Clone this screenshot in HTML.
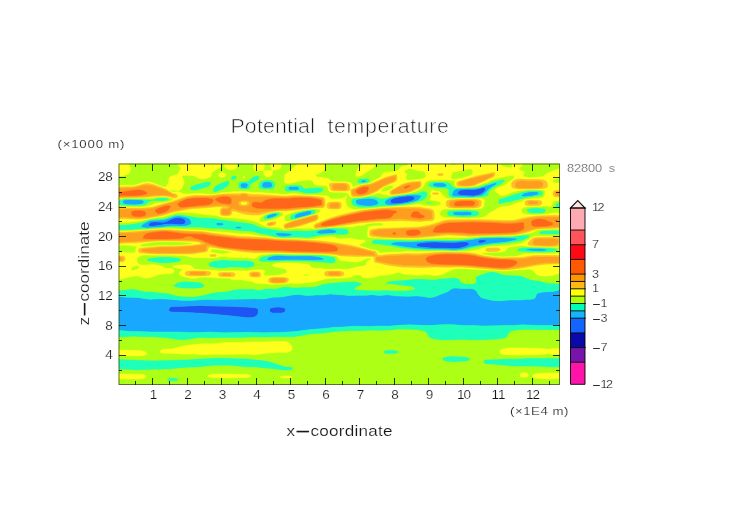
<!DOCTYPE html>
<html lang="en"><head><meta charset="utf-8"><title>Potential temperature</title>
<style>html,body{margin:0;padding:0;background:#fff;}body{width:752px;height:532px;overflow:hidden;position:relative;}svg{position:absolute;left:0;top:0;display:block;}text{font-family:"Liberation Sans",sans-serif;font-weight:400;stroke:#fff;stroke-width:0.18px;}.t1{stroke-width:0.65px;}.t2{stroke-width:0.5px;}</style></head><body>
<svg width="752" height="532" viewBox="0 0 752 532">
<rect width="752" height="532" fill="#fff"/>
<defs><clipPath id="pc"><rect x="118.7" y="163.5" width="440.8" height="221.0"/></clipPath></defs>
<g clip-path="url(#pc)" shape-rendering="geometricPrecision">
<rect x="118.0" y="163.0" width="442.5" height="222.5" fill="#aeff16"/>
<path fill="#1e54f4" stroke="#1e54f4" stroke-width="0.5" fill-rule="evenodd" d="M481.2 188.1L483.4 187.6L484.4 187.7L485.4 188L485.5 189.1L485.3 190.1L484.7 191.1L482.5 193.1L481 194.1L479.4 194.8L476.4 195.6L473.4 195.9L463.4 195.5L459.8 195.1L457.6 194.1L457.6 193.1L458.8 191.1L460.4 190.2L461.4 190L464.4 189.6L472.4 189.5L475.4 189.3L479.4 188.7L481.2 188.1ZM407.3 196.1L411.8 196.1L413.3 196.4L414.3 196.9L414.6 197.1L414.7 198.1L414.4 199.1L413.4 200.1L411.2 201.1L407.8 202.1L402.8 203.1L399.3 203.5L394.3 203.8L392.3 203.6L391.3 203.2L391 203.1L390.5 202.1L390.4 201.1L390.8 200.1L392 199.1L394.4 198.1L396.3 197.6L399.3 197L407.3 196.1ZM174.3 218.1L177.1 217.6L179.1 217.6L182 218.1L184.2 219.1L185.1 220.1L185.7 222.1L185.4 223.1L184.1 224.1L182.1 224.6L180.1 224.7L172.1 224.1L168.1 224.1L164.1 224.4L161.5 225.1L159 225.5L153 226.3L151 226.4L149 226.1L148.5 225.1L148.9 224.1L149.5 223.1L151 222.2L153 221.9L155 221.8L163.1 222.3L166.1 221.7L171.4 219.1L174.3 218.1ZM479.2 240.2L482.4 239.7L486.2 240.2L486.5 241.2L485.4 241.8L485.1 242.2L481.4 243L479.4 243L478.2 242.2L478 241.2L479.2 240.2ZM426 242.2L434.4 241.9L452.4 242.4L464.4 241.8L468 242.2L469.2 243.2L469.1 244.2L468.1 245.2L466.2 246.2L463.5 247.2L459.4 248.2L456.4 248.5L453.4 248.6L444.4 248.3L433.4 248.2L420.3 247.1L416.6 246.2L416.3 245.2L416.9 244.2L418.7 243.2L426 242.2ZM183.7 306.3L200.1 305.5L212.1 306L228.1 306.3L241.1 306.8L254.2 307.4L257 308.3L258 309.3L258.3 310.3L258.1 312.3L257.7 314.3L257.1 315.3L255.2 316.7L252.2 317.5L248.1 317.8L244.1 317.4L232.1 316L210.1 313.9L192.1 312.7L171.1 312L169.4 311.3L168.8 310.3L169.2 308.3L170.1 307.3L171.1 306.8L173.1 306.5L183.7 306.3ZM274.1 307.3L278.2 307.1L281.2 307.2L283.2 307.6L284.8 308.3L285.4 309.3L285.4 311.3L284.3 312.3L282.2 313L279.2 313.2L275.2 313.2L272.2 312.9L270.6 312.3L269.5 311.3L269.5 310.3L269.7 309.3L270.2 308.6L271.2 307.9L274.1 307.3Z"/>
<path fill="#18a8ff" stroke="#18a8ff" stroke-width="0.5" fill-rule="evenodd" d="M361 181L362.3 180.2L364.3 180.1L366.3 180.7L366.7 181L366.3 181.6L365.8 182L362.3 182.4L361.1 182L361 181ZM264.2 182L266.2 181.8L268.2 181.8L270.2 182L271.2 182.5L271.8 183L272.2 184L272.4 185L272.2 186.4L271.7 187.1L271.2 187.4L269.2 187.8L265.2 187.9L263.2 187.5L262.4 187.1L261.9 186.1L262.2 184L262.7 183L264.2 182ZM242.5 183L246.1 183L247.1 183.4L247.9 184L248 185L247.6 187.1L247.1 187.5L246.1 188.1L244.1 188.2L242.1 188.1L241.1 187.6L240.6 187.1L240.3 185L240.6 184L241.1 183.6L242.5 183ZM434.7 183L440.4 182.8L443.3 183L444.4 183.4L445.7 184L446.4 185L446.8 186.1L445.4 186.8L444.5 187.1L441.4 187.2L437.8 187.1L435.4 186.7L433.4 186.1L432.8 185L432.9 184L434.7 183ZM494.1 183L495.4 182.9L496.6 183L496.5 184L495.4 185L490.4 188L489.4 188.8L484.3 194.1L482.9 195.1L481.4 195.7L477.4 196.6L472.4 197L455.4 196.7L454.4 196.6L452.8 196.1L452 195.1L452 194.1L453.4 190.7L454.4 189.8L456.1 189.1L460.4 188.5L475.4 188.2L478.4 187.9L494.1 183ZM481.4 188L479.4 188.7L474.4 189.4L465.4 189.5L460.9 190.1L458.8 191.1L457.6 193.1L457.6 194.1L459.8 195.1L462.4 195.4L473.4 195.9L476.4 195.6L479.4 194.8L481 194.1L482.5 193.1L484.7 191.1L485.3 190.1L485.5 189.1L485.4 188L484.4 187.7L483.4 187.6L481.4 188ZM288.9 187.1L290.2 186.7L292.2 186.5L295.2 186.4L297.2 186.6L298.4 187.1L298.9 188.1L299.2 189.1L298.2 189.9L296.2 190.2L290.2 190.1L289.2 189.7L288.2 189.1L288.2 188.1L288.9 187.1ZM528.2 192.1L532.5 191.7L535.5 191.8L537.7 192.1L538.5 192.7L538.8 193.1L538.5 194.1L536.7 195.1L532.5 195.9L523.5 196.7L522.5 196.6L521.6 196.1L521.8 195.1L522.7 194.1L524.6 193.1L528.2 192.1ZM406.5 195.1L414.3 194.6L416.3 194.7L419.3 195.1L420.3 195.3L421.3 195.8L421.5 196.1L420.4 198.1L419.6 199.1L418.3 200.1L416.3 201.1L413.2 202.1L406.3 203.6L399.3 204.6L392.3 205.1L388.8 205.1L387.3 204.8L385.2 204.1L384.8 203.1L384.9 202.1L385.3 201.1L386.2 200.1L387.7 199.1L390 198.1L393.1 197.1L398.5 196.1L406.5 195.1ZM407.3 196.1L399.3 197L396.3 197.6L394.4 198.1L392 199.1L390.8 200.1L390.4 201.1L390.5 202.1L391 203.1L393.3 203.7L395.3 203.8L398.3 203.6L402.8 203.1L407.8 202.1L411.2 201.1L413.4 200.1L414.4 199.1L414.7 198.1L414.6 197.1L414.3 196.9L413.3 196.4L411.8 196.1L407.3 196.1ZM359.2 199.1L368.3 198.2L371.3 198.4L374.5 199.1L376.4 200.1L377.7 201.1L378.4 202.1L378.5 203.1L378 204.1L376.2 205.1L375.3 205.4L371.7 206.1L368.3 206.2L362.3 205.7L358.7 205.1L356.8 204.1L356.3 203.5L355.7 202.1L355.6 201.1L355.9 200.1L357.3 199.5L359.2 199.1ZM123.9 200.1L127 199.6L130 199.6L138 199.7L142.1 200.1L144 201.1L143.9 202.1L143.4 203.1L143 203.4L141.8 204.1L141 204.3L137 204.7L129 204.7L125 204.3L124 204L122.9 203.1L122.7 201.1L123.9 200.1ZM536.5 210.1L537.5 210.1L537.7 210.1L537.5 210.2L536.5 210.1ZM307.1 211.1L309.2 210.9L311.3 211.1L311.7 212.1L311.5 213.1L310.6 214.1L308.3 215.1L301 217.1L299.2 217.4L296.3 218.1L295.2 218L294.5 217.1L294.7 216.1L295.2 215.1L296.6 214.1L299.1 213.1L307.1 211.1ZM453.9 212.1L457.4 211.7L464.4 211.6L467.4 211.6L470.4 212L470.8 212.1L471.8 213.1L471.9 214.1L470.9 215.1L467.4 215.6L463.4 215.7L459.4 215.6L454.8 215.1L453 214.1L452.9 213.1L453.9 212.1ZM271.2 214.1L275.2 213.5L276.2 213.6L277 214.1L276.9 215.1L275.7 216.1L273.3 217.1L271.2 217.7L269.2 218.3L267.2 218.2L267 218.1L266.7 217.1L267.1 216.1L268.4 215.1L271.2 214.1ZM176.1 216.1L179.1 216L182.1 216.3L185.8 217.1L188.4 218.1L189.8 219.1L190.5 220.1L191.5 223.1L190.9 224.1L189.2 225.1L188.1 225.5L184.1 226.2L181.1 226.3L175.1 225.9L172.1 225.9L158 227.4L147 228.1L144 227.8L141.2 227.1L141.1 226.1L143.3 224.1L144.8 223.1L148.8 221.1L151 220.5L154 220.2L161 219.9L164.1 219.6L168.1 218.5L173.1 216.8L176.1 216.1ZM175.1 217.9L171.4 219.1L166.1 221.7L163.1 222.3L155 221.8L153 221.9L151 222.2L149.5 223.1L148.9 224.1L148.5 225.1L149 226.1L152 226.3L154.8 226.1L158 225.6L161.5 225.1L164.1 224.4L168.1 224.1L172.1 224.1L180.1 224.7L182.1 224.6L184.1 224.1L185.4 223.1L185.7 222.1L185.1 220.1L184.2 219.1L182 218.1L180.1 217.7L178.1 217.6L175.1 217.9ZM209 222.1L210.1 221.8L212.3 222.1L211.1 222.4L209 222.1ZM216.3 223.1L217.1 222.8L218.1 222.6L222.1 222.9L222.8 223.1L223.6 224.1L223.1 225.1L222.1 225.6L221.1 225.7L218.1 225.7L217.1 225.4L216.5 225.1L216.1 224.1L216.3 223.1ZM235.4 227.1L236.1 226.5L237.1 226.4L240.1 226.6L241.1 227.1L241.3 228.1L240.1 228.7L237.1 228.7L235.7 228.1L235.4 227.1ZM327.9 229.1L331.2 229.2L334.9 230.1L336.3 231.2L337 232.2L333.9 233.2L326.2 233.7L321.2 233.9L319.2 233.8L317.1 233.2L316.5 232.2L317.9 231.2L320.9 230.1L327.9 229.1ZM276 233.2L277.2 232.9L279.2 232.8L289.5 233.2L292.1 234.2L291.8 235.2L291.2 235.3L288.7 236.2L286.2 236.4L282.2 236.5L279.2 236.2L276.6 235.2L275.9 234.2L276 233.2ZM479.5 238.2L483.4 237.9L499.4 237.5L517.4 238.2L517.8 239.2L514.7 240.2L510.8 241.2L505.2 242.2L490.4 243.7L482.4 244.9L472.4 246.5L463.4 248.9L458.4 249.7L453.4 249.9L444.4 249.5L429.4 249.2L414.3 248.3L406.1 247.2L393.8 245.2L390.9 244.2L390.9 243.2L393.8 242.2L398.3 241.8L411.3 241.8L430.4 240.8L455.4 241.1L470.4 239.8L479.5 238.2ZM426.3 242.2L418.7 243.2L416.9 244.2L416.3 245.2L416.6 246.2L420.3 247.1L433.4 248.2L444.4 248.3L453.4 248.6L456.4 248.5L459.4 248.2L463.5 247.2L466.2 246.2L468.1 245.2L469.1 244.2L469.2 243.2L468 242.2L464.4 241.8L452.4 242.4L434.4 241.9L426.3 242.2ZM479.4 240.1L478 241.2L478.2 242.2L479.4 243L481.4 243L485.1 242.2L486.5 241.2L486.2 240.2L482.4 239.7L479.4 240.1ZM526.1 249.2L528.5 248.7L530.5 248.6L540.5 248.6L546.1 249.2L547.5 250.2L544.5 250.9L541.5 251.2L531.5 250.9L528.5 250.6L526.4 250.2L526.1 249.2ZM271.5 256.2L275.2 255.6L278.2 255.4L292.2 256L311.2 255.9L316.1 256.2L321 257.2L323.1 258.2L324.5 259.2L323.2 259.8L319.2 260.3L312.2 260.4L291.2 260L276.2 260.5L270.2 260.4L268.2 260.2L266.6 259.2L267.6 258.2L268.8 257.2L271.5 256.2ZM453.1 288.3L456.4 288.1L463.4 288.7L469.4 288.4L472.4 288.8L473.9 289.3L475.6 290.3L476.5 291.3L479.4 295.8L480.4 296.9L481.4 297.5L484.4 298.6L490.4 299.9L494.4 300.6L498.4 300.8L501.4 300.8L509.4 300L519.5 300L525.5 299.4L531.6 299.3L533.5 298.8L534.5 298.2L535.4 297.3L536.5 294.3L537.5 293.4L538.5 292.9L540.5 292.4L543.5 292L553.5 291.4L556.5 290.7L559.5 289.8L559.5 325.2L553.5 325.5L539.5 325.5L522.5 324.8L512.4 325.4L505.4 325.4L495.4 325.8L482.4 325.9L473.4 325.6L464.4 325.6L450.4 324.6L440.4 324.8L429.4 325.5L408.3 324.8L398.3 325.3L388.3 326.2L381.3 326L370.3 326.4L354.3 326.2L342.3 327.1L334.2 327.2L325.2 328.4L316.2 329.1L306.2 330.1L296.2 331.5L284.2 332.3L263.2 332.8L247.1 332.3L228.1 332.7L222.1 332.7L210.1 332.1L200.1 332.5L194.1 332.6L188.1 332.5L179.1 332L150 331.9L139 331.4L131 331.4L119 330.6L119 296.4L127 297.2L137 297.4L150 299.3L158 298.8L161 298.8L168.1 299.1L178.1 300.1L186.1 300.5L194.1 300.3L205.1 299.4L220.1 299.8L229.1 299.2L245.1 299.1L253.2 298.7L263.2 299L266.2 298.6L272.2 297.3L281.2 297L292.2 295L296.2 294.5L299.2 294.5L306.2 295.4L309.2 295.6L316.2 294.9L323.2 295L330.2 294L337.2 294.6L342.3 294.8L348.3 295.5L351.3 295.6L359.3 295.2L366.3 295.2L372.3 294.7L378.3 295.5L380.3 295.6L387.3 294.8L389.3 295L394.3 295.8L398.3 296L408.3 296.3L415.3 296L418.3 296.1L423.3 296.6L428.4 297.4L430.4 297.5L432.4 297.3L434.4 296.9L440.7 294.3L446.4 292.3L448.2 291.3L451.4 288.9L453.1 288.3ZM184.1 306.3L173.1 306.5L171.1 306.8L170 307.3L169.2 308.3L168.8 310.3L169.4 311.3L171.1 312L192.1 312.7L210.1 313.9L232.1 316L243.7 317.3L247.1 317.8L251.2 317.7L253.2 317.3L255.2 316.7L257.1 315.3L257.7 314.3L258.1 312.3L258.3 310.3L258 309.3L257 308.3L254.2 307.4L241.1 306.8L228.1 306.3L212.1 306L200.1 305.5L184.1 306.3ZM274.2 307.3L272.2 307.6L270.4 308.3L269.7 309.3L269.5 310.3L269.5 311.3L270.2 312L271.2 312.6L272.2 312.9L274.2 313.1L281.2 313.1L283.2 312.8L284.2 312.4L285.4 311.3L285.4 309.3L284.8 308.3L283.2 307.6L281.2 307.2L278.2 307.1L274.2 307.3Z"/>
<path fill="#1effba" stroke="#1effba" stroke-width="0.5" fill-rule="evenodd" d="M232.1 176L233.1 175.7L234.1 175.7L235.1 175.7L236.3 176L236.8 177L236.7 178L236.4 179L236.1 179.2L233.1 179.9L232.1 180L231.1 179.8L230.6 179L231.3 177L232.1 176ZM255.2 176L257.2 175.4L258.2 175.3L259.2 175.9L259.4 177L259.4 178L259 179L258.2 180L251.3 184L250.7 185L249.9 188.1L248.7 189.1L247.1 189.5L243.1 189.6L241.1 189.5L240.1 189.2L238.6 188.1L238.3 187.1L238.2 185L238.2 184L238.6 183L239.7 182L241.1 181.4L243.1 181.2L248.8 181L249.1 180.8L251.1 178L252.6 177L255.2 176ZM243.1 183L242.1 183.1L241.1 183.6L240.6 184L240.3 185L240.6 187.1L241.1 187.6L242.1 188.1L245.1 188.2L246.2 188.1L247.1 187.5L247.6 187.1L248 185L247.9 184L247.1 183.4L246.1 183L243.1 183ZM359.2 179L361.3 178.6L364.3 178.4L367.3 178.6L368.7 179L369.9 180L370 181L369.4 182L367.5 183L361.3 183.8L359.3 183.6L358.3 183.3L357.9 183L357.4 182L357.2 181L357.5 180L359.2 179ZM361.3 180.7L361 181L361.3 182.1L362.3 182.4L363.3 182.4L365.8 182L366.7 181L366.3 180.7L365.3 180.3L363.3 180L362.3 180.2L361.3 180.7ZM264.4 180L268.2 179.8L271.2 180.1L273.2 180.9L274.4 182L274.8 183L275.1 186.1L275 187.1L274.3 188.1L273.2 188.8L272.2 189.2L269.2 189.5L264.2 189.6L262.2 189.4L260.2 188.7L259.2 188.1L258.7 187.1L258.7 186.1L258.9 185L259.6 183L260.2 182L261.2 181.1L262.2 180.5L264.4 180ZM264.2 182L262.7 183L262.2 184L261.9 186.1L262.4 187.1L263.2 187.5L265.2 187.9L268.2 187.9L270.2 187.7L271.7 187.1L272.3 186.1L272.2 184L271.8 183L270.3 182L269.2 181.8L266.2 181.8L264.2 182ZM498.5 180L502.4 179.6L504.4 180L505 181L504.5 182L501.5 184L493.7 188.1L491.4 189.6L489.9 191.1L489.1 192.1L488.4 195.1L487.4 195.9L485.4 196.6L483.3 197.1L478.4 197.6L472.4 197.9L452.4 197.9L449.8 197.1L449 196.1L448.4 194.1L448.5 190.1L447.6 189.1L445.4 188.8L438.4 188.4L433.4 187.9L430.4 187.3L429.6 187.1L428.6 186.1L428.7 184L429.2 183L431.4 182.1L433.4 181.7L440.4 181.5L446.4 181.9L448.4 182.5L449.7 183L452.4 186.1L454.1 187.1L455.4 187.5L457.4 187.8L460.4 187.6L466.4 187.7L477.4 187L479.4 186.6L482.4 185.4L493.4 181.5L498.5 180ZM435.4 183L434.4 183.1L432.9 184L432.8 185L433.3 186.1L435.4 186.7L437.8 187.1L441.4 187.2L444.4 187.1L445.4 186.8L446.8 186.1L446.4 184.9L445.7 184L445.4 183.8L443.4 183L442.4 182.9L438.4 182.8L435.4 183ZM494.4 183L478.4 187.9L475.4 188.2L460.4 188.5L456.1 189.1L454.4 189.8L453.4 190.7L452 194.1L452 195.1L452.8 196.1L454.4 196.6L472.4 197L477.4 196.6L481.4 195.7L482.9 195.1L484.3 194.1L489.4 188.8L490.4 188L495.4 185L496.5 184L496.6 183L495.4 182.9L494.4 183ZM225.6 181L228.1 180.6L229.2 181L229.3 182L229.1 184L228.7 185L228 186.1L226.1 187.6L223.7 189.1L218.9 191.1L216.1 192L215.1 192.1L213.7 192.1L212.9 191.1L213 189.1L213.4 188.1L214.1 187.1L215.2 186.1L218.1 184.3L223.1 182L225.6 181ZM205.1 182L209.1 181.5L210.1 181.6L211.1 182L211.1 183L210 185L209 186.1L207.4 187.1L206.1 187.6L201.5 189.1L197.1 190.2L195.1 190.6L193.1 190.6L191.1 190.1L190 189.1L189.8 188.1L190.5 187.1L192.1 186L196.1 184.3L199.1 183.4L205.1 182ZM290.7 185L296.2 184.8L299.4 185L301.2 185.6L301.9 186.1L303.2 187.5L304.2 188.1L305.2 188.3L316.2 187.3L319.2 187.3L321.2 187.6L322.7 188.1L323.4 189.1L323.3 190.1L322.7 191.1L321.4 192.1L318.2 193.1L315.2 193.4L307.2 193.7L304.2 193.3L300.2 192L295.2 191.6L289.2 191.5L286.2 191.1L284.4 190.1L284.2 189.1L284.7 187.1L286.2 185.9L288.2 185.4L290.7 185ZM289.2 186.9L288.9 187.1L288.2 188.1L288.2 189.1L289.2 189.7L290.2 190.1L291.2 190.1L297.9 190.1L299.2 189.1L298.9 188.1L298.2 186.9L297.2 186.6L295.2 186.4L291.2 186.5L289.2 186.9ZM423.3 191.1L424.3 191.1L426.3 191.8L427.3 193.1L427.5 194.1L427.4 195.1L427.1 196.1L426.3 197.4L425.8 198.1L422.3 200.8L413.3 203.4L407.3 204.5L399.3 205.5L391.3 206.1L380.3 206.4L374.3 207.2L369.3 207.6L364.3 207.7L360.3 207.5L357.3 207L355.3 206.5L354.3 206L352.9 205.1L352 204.1L351.3 202.1L351.2 201.1L351.3 200.1L352.3 199.1L354.3 198.3L361.3 197.8L369.3 196.6L372.3 196.4L375.3 196.8L380.3 198.2L381.3 198.4L383.3 198.4L394.3 195.8L418.3 192.8L420.3 192.1L422.3 191.2L423.3 191.1ZM359.3 199.1L357.3 199.5L355.9 200.1L355.6 201.1L355.7 202.1L356.3 203.5L356.8 204.1L358.3 204.9L361.3 205.6L367.3 206.2L371.3 206.1L374.3 205.6L376.2 205.1L378 204.1L378.5 203.1L378.4 202.1L377.7 201.1L376.4 200.1L374.5 199.1L371.3 198.4L368.3 198.2L359.3 199.1ZM407.3 195L398.5 196.1L393.1 197.1L390 198.1L387.7 199.1L386.2 200.1L385.3 201.1L384.9 202.1L384.8 203.1L385.2 204.1L386.3 204.5L388.3 205L390.3 205.2L393.7 205.1L398.3 204.7L406.3 203.6L413.2 202.1L416.3 201.1L418.3 200.1L419.6 199.1L420.4 198.1L421.5 196.1L421.3 195.8L420.3 195.3L417.3 194.8L415.3 194.6L407.3 195ZM525.7 191.1L529.5 190.6L533.5 190.4L536.5 190.5L541.5 191L542.5 191.5L542.9 192.1L542.9 194.1L542.5 195.2L541.5 195.8L526.5 198.1L513.4 201.3L500.4 204L499.4 204L498.4 203.4L498.1 202.1L498.1 201.1L498.5 200.1L499.4 199.2L500.4 198.7L504.4 197.6L511.5 195.1L521.5 192.1L525.7 191.1ZM528.5 192L524.6 193.1L522.7 194.1L521.8 195.1L521.6 196.1L522.5 196.6L523.5 196.7L531.5 196L536.7 195.1L538.5 194.1L538.8 193.1L537.7 192.1L535.5 191.8L532.5 191.7L528.5 192ZM158.5 198.1L163.1 197.8L166.9 198.1L169.1 199.1L168.5 200.1L167.1 200.5L164.1 200.9L152 201L150 201.5L149 202L147.2 204.1L145.3 205.1L144 205.4L141 205.8L138 206L129 205.9L122 205.5L120.3 205.1L119 204.2L119 200.5L119.3 200.1L121 199.5L124 199L130 198.7L141 198.9L150 199.6L152 199.4L158.5 198.1ZM124 200.1L122.7 201.1L122.9 203.1L124 204L125 204.3L129 204.7L136 204.8L139 204.6L142 204L143.4 203.1L143.9 202.1L144 201.1L142.1 200.1L138 199.7L130 199.6L127 199.6L124 200.1ZM425.7 202.1L427.9 202.1L431.4 202.8L431.8 203.1L431.4 203.6L430.4 203.9L427.4 203.6L426.2 203.1L425.7 202.1ZM556.3 203.1L557.5 202.8L559.5 202.7L559.5 207.8L557.5 207.8L556.5 207.6L555.5 207.1L555.2 206.1L555.5 204.1L556.3 203.1ZM531.2 208.1L535.5 207.8L539.5 207.9L542.5 208.3L545.2 209.1L545.9 210.1L545.8 211.1L545.2 212.1L543.5 213L542.5 213.2L538.5 213.5L533.5 213.4L530.5 213.1L527.6 212.1L526.9 211.1L526.6 210.1L527.4 209.1L529.5 208.4L531.2 208.1ZM537.5 210.1L536.5 210.1L537.5 210.2L537.7 210.1L537.5 210.1ZM307.3 210.1L312.2 209.6L314.2 209.8L315.2 210.1L315.7 211.1L315.5 212.1L315 213.1L313.7 214.1L311 215.1L297.2 218.8L296.2 219.1L292.2 219.8L291.2 219.7L290.3 219.1L290 218.1L290.1 217.1L290.5 216.1L291.4 215.1L292.9 214.1L296.2 212.7L302.3 211.1L307.3 210.1ZM307.2 211.1L299.1 213.1L296.6 214.1L295.2 215.1L294.7 216.1L294.5 217.1L295.2 218L296.3 218.1L298.2 217.7L304.9 216.1L308.3 215.1L310.6 214.1L311.5 213.1L311.7 212.1L311.3 211.1L309.2 210.9L307.2 211.1ZM461.2 210.1L467.4 210L472.4 210.3L477.4 211.1L479.1 212.1L479.3 213.1L479.1 214.1L478.6 215.1L476.8 216.1L472.4 216.8L465.4 217.1L459.4 217L452.4 216.5L449.8 216.1L447.5 215.1L447 214.1L447 213.1L447.3 212.1L448.5 211.1L450.4 210.6L452.4 210.3L461.2 210.1ZM454.4 212L453.9 212.1L452.9 213.1L453 214.1L454.8 215.1L458.4 215.5L462.4 215.7L467.4 215.6L470.4 215.2L470.9 215.1L471.9 214.1L471.8 213.1L470.8 212.1L470.4 212L467.4 211.6L464.4 211.6L457.4 211.7L454.4 212ZM271.8 213.1L275.2 212.4L277.2 212.3L278.2 212.5L279.4 213.1L279.9 214.1L279.5 215.1L278.2 216.1L275.2 217.6L271.2 218.8L268.2 219.6L266.2 219.8L265.2 219.7L264.1 219.1L263.9 218.1L264.1 217.1L264.8 216.1L266.1 215.1L268.3 214.1L271.8 213.1ZM272.2 213.9L268.4 215.1L267.1 216.1L266.7 217.1L267 218.1L268.2 218.3L270.2 218.1L273.3 217.1L275.7 216.1L276.9 215.1L277 214.1L276.2 213.6L275.2 213.5L272.2 213.9ZM173.9 215.1L177.1 214.4L181.1 214.6L199.1 217.4L213.1 218.1L222.1 219.6L249.1 223.1L253.5 224.1L259.2 226.7L261.2 227.3L273.2 229.5L281.2 230.6L284.2 230.8L296.2 230.5L307.2 230.8L315.2 230L318.9 229.1L329.2 228.1L334.2 228L344.3 228.4L346.3 228.9L347.3 229.6L347.9 230.2L348.5 231.2L348.7 232.2L348.4 233.2L347.4 234.2L345.3 234.9L342.3 235.1L338.2 234.8L334.2 234.8L326.2 235.3L319.2 236L311.2 237.5L307.2 238L298.2 237.6L294.2 237.7L283.2 237.9L277.2 237.4L265.2 234.8L260.2 234L251.2 231.5L241.1 231.1L235.1 230.6L222.1 229L211.1 228.8L200.1 227.6L194.1 227.4L183.1 227.9L175.1 227.4L172.1 227.3L147.3 229.1L140 229.3L131 229.9L119 230.2L119 224.7L127 224.5L141 222.6L148 220.1L150 219.6L153 219.1L164.1 218.2L168.1 217.1L173.9 215.1ZM177.1 216L174.1 216.6L168.1 218.5L164.1 219.6L161 219.9L154 220.2L151 220.5L148.8 221.1L144.8 223.1L143.3 224.1L141.1 226.1L141.2 227.1L144 227.8L147 228.1L157 227.4L163.1 227L172.1 225.9L175.1 225.9L181.1 226.3L184.1 226.2L187.1 225.8L189.2 225.1L190.1 224.6L190.9 224.1L191.5 223.1L191.3 222.1L190.5 220.1L189.8 219.1L188.4 218.1L185.8 217.1L183.1 216.5L180.1 216.1L177.1 216ZM209.1 222.1L210.1 222.3L212.1 222.2L211.1 221.9L210.1 221.8L209.1 222.1ZM217.1 222.8L216.3 223.1L216.1 224.1L216.5 225.1L218.1 225.7L220.1 225.8L222.1 225.6L223.1 225.1L223.6 224.1L222.8 223.1L221.1 222.7L218.1 222.6L217.1 222.8ZM236.1 226.5L235.4 227.1L235.7 228.1L237.1 228.7L240.1 228.7L241.1 228.3L241.3 228.1L241.1 227.1L240.1 226.6L238.1 226.4L236.1 226.5ZM276.2 233.1L276 233.2L275.9 234.2L276.6 235.2L279.1 236.2L282.2 236.5L285.2 236.4L288.7 236.2L290.2 235.6L291.8 235.2L292.1 234.2L289.5 233.2L279.2 232.8L276.2 233.1ZM328.2 229.1L320.9 230.1L317.9 231.2L316.5 232.2L317.1 233.2L319.2 233.8L321.2 233.9L325.2 233.8L333.9 233.2L337 232.2L336.3 231.2L334.9 230.1L331.2 229.2L328.2 229.1ZM540.3 231.2L545.5 230.6L555.5 230.3L558.5 230.5L559.5 230.7L559.5 234L559.1 234.2L555.5 234.5L543.5 234.3L541 234.2L539.2 233.2L539.1 232.2L540.3 231.2ZM523.1 235.2L526.5 235L528.5 235.1L529.5 235.6L529.8 236.2L528.9 237.2L525.8 239.2L523.5 240.3L520.5 241.3L507.4 243.5L490.4 245.1L482.4 246.2L472.4 248.2L465.4 249.8L458.4 250.7L454.4 250.9L443.4 250.4L432.4 250.4L415.3 249.8L403.3 248.6L383.6 245.2L374.3 244.3L372.3 243.6L371.7 243.2L371.6 242.2L372.3 240.7L372.7 240.2L373.3 239.9L375.3 239.6L411.3 240.3L432.4 239.6L454.4 239.9L468.4 238.7L481.4 237.1L499.4 236.5L511.4 236.5L523.1 235.2ZM480.4 238.1L470.4 239.8L455.4 241.1L430.4 240.8L411.3 241.8L398.3 241.8L393.8 242.2L390.9 243.2L390.9 244.2L393.8 245.2L406.1 247.2L414.3 248.3L428.9 249.2L444.4 249.5L452.4 249.9L457.4 249.8L462.4 249.1L472.4 246.5L482.4 244.9L490.4 243.7L505.2 242.2L510.8 241.2L514.7 240.2L517.8 239.2L517.4 238.2L499.4 237.5L480.4 238.1ZM518.9 248.2L522.5 247.5L525.5 247.3L541.5 247.6L554.5 248.2L557.3 249.2L557.6 250.2L556.7 251.2L555.5 251.5L551.5 252L543.5 252.4L528.5 252.2L522.5 251.9L518 251.2L517.2 250.2L517.6 249.2L518.9 248.2ZM526.5 249.1L526.1 249.2L526.4 250.2L530.5 250.8L541.5 251.2L544.5 250.9L547.5 250.2L546.1 249.2L540.5 248.6L530.5 248.6L526.5 249.1ZM269.3 255.2L274.2 254.5L278.2 254.3L292.2 254.8L313.2 254.9L322.2 255.2L325.2 255.5L332.2 256.6L334.5 257.2L335.1 258.2L335.9 261.2L335.6 262.2L335.2 262.5L333.2 263.2L331.2 263.4L326.2 263L310.2 261.7L297.2 261.4L286.2 261.4L271.2 261.9L261.2 261.8L259.2 261.2L258.8 260.2L259.2 259.2L260.6 257.2L262.2 256.4L265.2 256L269.3 255.2ZM272.2 256.1L268.8 257.2L267.6 258.2L266.6 259.2L268.2 260.2L269.2 260.3L275.2 260.5L287.2 260L293.2 260L312.2 260.4L318.2 260.3L322.2 260L323.2 259.8L324.5 259.2L323.1 258.2L321 257.2L316.1 256.2L311.2 255.9L292.2 256L278.2 255.4L275.2 255.6L272.2 256.1ZM155.9 257.2L162 256.8L169.1 256.9L175.1 257.3L180.1 258.2L181 259.2L180.9 260.2L180.4 261.2L177.4 262.2L171.1 262.9L165.1 263.3L161 263.3L158 262.9L148 261.2L147 260.2L147 259.2L148.4 258.2L155.9 257.2ZM217.1 260.2L222.1 259.8L238.1 260.4L246.1 260.2L249.1 260.5L251.2 261L252 261.2L253.7 262.2L254.4 263.2L254.8 265.2L254.1 266.2L251.2 267.4L248.1 267.9L246.1 268L238.1 267.5L233.1 267.4L230.1 267.6L224.1 268.3L221.1 268.4L217.1 268.2L211.5 267.2L209 266.2L208.4 265.2L209.2 263.2L210.1 262.2L212.5 261.2L217.1 260.2ZM487.4 272.2L490.4 271.7L493.4 271.8L496.4 272.2L501.4 274.1L504.4 274.7L509.4 275.1L516.5 275.3L519.5 275.5L522.7 276.3L528.5 278.7L530.5 279.4L532.5 279.9L539.5 280.7L546.5 282.7L549.5 283.1L554.5 283.2L559.5 283.5L559.5 289.8L556.5 290.7L553.5 291.4L543.5 292L540.5 292.4L538.5 292.9L537.5 293.4L536.5 294.3L535.4 297.3L534.5 298.2L533.5 298.8L531.5 299.3L525.5 299.4L519.5 300L509.4 300L500.4 300.8L496.4 300.7L492.5 300.3L484.4 298.6L482.4 298L481 297.3L479.4 295.8L476.4 291.1L475.6 290.3L473.4 289.1L471.4 288.6L469.4 288.4L462.4 288.6L455.4 288.1L453.4 288.2L451.4 288.9L448.2 291.3L446.4 292.3L440.7 294.3L435.4 296.5L432.4 297.3L430.4 297.5L428.4 297.4L423.3 296.6L418.3 296.1L415.3 296L408.3 296.3L398.3 296L394.3 295.8L389.3 295L387.3 294.8L380.3 295.6L378.3 295.5L372.3 294.7L366.3 295.2L359.3 295.2L351.3 295.6L348.3 295.5L342.3 294.8L337.2 294.6L330.2 294L323.2 295L316.2 294.9L309.2 295.6L306.2 295.4L299.2 294.5L296.2 294.5L292.2 295L281.2 297L272.2 297.3L266.2 298.6L262.2 299L253.2 298.7L245.1 299.1L229.1 299.2L220.1 299.8L205.1 299.4L194.1 300.3L187.1 300.5L180.1 300.2L169.1 299.2L161 298.8L158 298.8L151 299.3L148 299.1L137 297.4L127 297.2L119 296.4L119 290L123 290L130 289L133 288.9L136 289.3L141 290.7L144 291.3L152 291.4L158 292.4L166.1 292.9L169.1 293.5L175.5 295.3L181.1 296.1L186.1 296.5L192.1 296.6L196.1 296.3L202.3 295.3L206.6 294.3L211.1 292.9L213.1 292.5L217.1 292L226.1 291.4L232.1 290L236.1 289.2L240.1 289L247.1 289.1L252.2 288.9L254.2 289L257.2 289.8L259.2 289.9L261.2 289.6L265.2 288.6L267.2 288.4L273.2 288.7L275.2 288.7L277.2 288.3L282.2 287L285.2 286.7L287.2 286.7L294.2 287.4L303.2 287.1L312.2 287L315.2 286.6L323.2 284.1L327.2 283.2L336.7 282.3L350.3 281.4L354.3 281.6L358.3 282.1L361.7 283.3L362.1 284.3L360.9 285.3L356.4 287.3L355.3 288L354.9 288.3L355.3 289.3L362.3 289.9L377.3 290.2L386.3 290L397.3 290.6L402.3 290.6L406.7 290.3L413.3 289.4L413.8 289.3L414.5 288.3L413.3 287.4L412.3 287.1L396.3 284.9L388.3 284L385.8 283.3L385.7 282.3L388.3 281.4L396.8 280.3L404.3 280L414.3 278.8L419.3 278.7L434.4 279.4L442.9 278.3L453.4 277.7L455.4 277.8L457.4 278.1L459.9 279.3L460.5 280.3L460.5 281.3L461.2 282.3L463.8 283.3L467.4 283.8L471.4 283.7L474.2 283.3L475.8 282.3L476 281.3L475.5 278.3L475.7 277.3L476.7 276.3L478.8 275.3L485 273.2L487.4 272.2ZM183 281.3L186.1 281.2L198.1 282L200.1 282.4L202 283.3L203.2 284.3L204 285.3L204.3 286.3L203.6 287.3L201.1 288.1L196.1 288.7L187.1 288.8L182.1 288.5L175.6 287.3L173.3 286.3L173.2 285.3L176.3 283.3L179.1 282.1L183 281.3ZM397.2 325.4L410.3 324.8L421.3 325.3L430.4 325.5L440.4 324.8L449.4 324.6L453.4 324.7L464.4 325.6L473.4 325.6L482.4 325.9L495.4 325.8L505.4 325.4L512.4 325.4L522.5 324.8L539.5 325.5L553.5 325.5L559.5 325.2L559.5 330.2L539.5 330.3L524.5 329.9L517.6 330.4L511.4 331.4L509.8 332.4L507.4 336.4L506.4 337.5L504.4 338.4L498.6 339.4L485.4 340.2L475.4 340.4L462.4 340L445.4 340.4L440.4 340.3L434.4 339.4L430.4 338.3L428.7 337.4L428 335.4L425.9 332.4L424.6 331.4L423.3 331L420.3 330.5L412.3 329.8L401.3 329.6L397.3 329.7L388.3 330.6L380.3 330.9L369.3 330.7L359.3 331.2L351.3 331.1L347.3 331.2L334.2 332.2L322.2 333.7L311.2 334.3L294.2 337.2L285.2 337.3L263.2 337.5L252.2 337.3L242.1 337.9L218.1 338L211.1 338.3L201.1 338.1L195.9 338.4L186.1 339.9L180.1 340.2L176.1 339.8L167.1 338.3L153 337.2L143 337.2L133 336.8L123 337.4L119 337.4L119 330.6L131 331.4L139 331.4L149 331.9L179.1 332L191.1 332.6L199.1 332.6L210.1 332.1L224.1 332.8L247.1 332.3L264.2 332.7L283.2 332.3L295.2 331.6L306.2 330.1L316.2 329.1L325.2 328.4L334.2 327.2L342.3 327.1L354.3 326.2L370.3 326.4L381.3 326L388.3 326.2L397.2 325.4ZM384.8 350.4L387.3 350.1L392.3 350L395.3 350.1L397.2 350.4L398.5 351.4L398.3 352.4L397.3 353.4L395.3 353.8L391.3 354L387.3 354L384.3 353.5L384 353.4L383.2 352.4L383.3 351.4L384.8 350.4ZM446.8 356.4L450.4 356.1L453.4 356.1L463.4 356.5L467.4 357.1L468.6 357.4L469.4 358.1L469.7 358.4L469.9 359.4L469.4 360.4L466.3 361.4L459.4 362L454.4 362.2L449.4 362L445.7 361.4L443.1 360.4L442.5 359.4L442.4 358.4L443.1 357.4L446.8 356.4ZM203.5 358.4L216.1 357.8L224.1 357.7L245.1 358.5L250.1 358.8L264.2 360.2L267.2 360.7L272.2 362.2L285.2 366.4L290.2 366.6L292.7 367.5L293 368.5L292.7 369.5L292.2 369.8L290 370.5L285.2 370.7L273.2 369.2L264.2 368.5L256.2 367.5L244.1 367.2L232.1 365.9L215.1 365.8L208.1 366.4L196.1 367.6L183.1 368.1L172.1 369.2L163.1 369.6L147 369.9L136 370.4L127 369.8L119 369.7L119 358.9L140 360L155 360.2L184.1 359.6L203.5 358.4ZM520.1 358.4L525.5 358.1L559.5 358L559.5 367.4L552.5 367.4L538.5 366.7L524.5 366.6L516.5 366.6L511.4 366.4L500.4 365.3L487.4 364.5L485.4 364.1L484.2 363.5L483.7 362.4L483.5 361.4L483.8 360.4L485.4 359.6L486.4 359.4L507.4 358.7L515.5 358.8L520.1 358.4ZM167.5 378.5L169.1 378L170.1 377.9L176.1 378.1L177.7 378.5L178.5 379.5L178.6 380.5L177.1 381.2L176.1 381.3L171.1 381.4L169.1 381.2L167.3 380.5L167.1 379.5L167.5 378.5Z"/>
<path fill="#aeff16" stroke="#aeff16" stroke-width="0.5" fill-rule="evenodd" d="M128.7 164L177.8 164L178.4 165L180 167L180.4 168L180.4 169L180 170L178.1 174L177.1 174.6L172.1 176L170 177L169.2 178L169.1 178.5L168.7 182L168.3 183L166.4 186.1L166.2 187.1L165.1 187.2L161.2 186.1L152 182.5L148 181.8L143 182.6L135.1 185L134 185.2L132 185.4L127 185.2L119 185.4L119 176L123 175.6L127 174.4L129 173.1L130 171.6L130.5 170L130.4 168L129 165L128.7 164ZM220.2 164L224.5 164L224.2 166L224.6 167L225.7 168L227.1 169L228.1 169.4L230.1 169.7L233.1 169.5L235.2 169L236.2 168L236.6 167L236.8 164L254.6 164L253.5 167L253.5 168L253.8 169L254.4 170L255.2 170.7L256.2 171L257.2 171.1L263.2 170.4L263.5 170L264.4 167L264.5 166L264.2 164L270.5 164L270.4 166L270.7 167L271.8 169L272.1 170L268.2 170.7L264.2 170.5L263.6 171L264.2 174L264.6 175L265.2 175.9L266.2 176.4L269.2 176.6L270.2 176.5L271.2 176.1L272.1 175L272.5 173L272.6 171L273.2 170.1L278.2 169.4L279.3 169L280.2 168.2L280.7 167L281.5 164L297.5 164L292.7 168L290.2 171L287.2 172.9L285.8 174L285 175L284.6 176L284.4 178L284.6 181L284.8 182L285.3 183L286.2 183.4L288.2 183.4L292.2 182.8L298.2 181.3L301.2 180.7L308.2 180L310.9 180L312.2 180.7L312.5 181L314.3 184L316.2 185L324.2 185.4L325.2 185.6L326.5 186.1L327.6 187.1L328 188.1L328.3 190.1L328.9 191.1L330.2 191.9L333.2 192.3L341.3 192.2L348.1 193.1L348.6 195.1L349.3 195.2L349.7 196.1L350.7 197.1L351.3 197.4L352.3 197.6L354.3 197.3L360.3 197.1L364.3 196.6L372.3 194.8L377.3 193.2L378.3 193L380.3 193.2L384.3 194.7L387.3 194.9L390.3 195.7L402.3 194.2L410.3 192.8L414.3 191.7L420.3 188.8L422.7 187.1L423.6 186.1L424.2 185L424.8 183L425.5 182L426.3 181.4L428.4 180.6L430.4 180.3L444.4 179.8L453.4 180.2L454.4 180.4L454.9 181L455 184L455.7 186.1L456.4 186.6L457.4 187L460.4 186.9L463.4 187.1L467.4 187L472.4 186.5L479.4 184.9L482.4 183.7L487.5 182L493.4 179.3L496.4 178.5L505.4 176.6L509.4 176L512.4 175.3L513.4 175.3L514.2 176L514.2 177L513.9 178L513.1 179L510.4 180.7L505.4 184.8L503.4 185.8L497.7 188.1L496.1 189.1L495.1 190.1L495.1 191.1L495.9 192.1L499 194.1L500.4 195.3L501.4 195.6L502.4 195.6L504.4 195.2L514.4 191.5L518.5 190.6L522.7 190.1L528.5 189.7L536.5 189.6L542.5 189.7L544.2 190.1L545.2 191.1L545.2 192.1L544.3 196.1L543.5 197L542.5 197.7L541.5 197.9L536.5 198.6L528.5 199.1L525.5 199.6L524 200.1L520.5 201.9L513.7 204.1L509.4 206L507.4 206.3L502.4 206.6L500.1 207.1L498.4 207.7L497.4 208.2L495.1 210.1L489.6 213.1L485.4 216.4L484 217.1L481.4 217.7L474.4 218.2L462.4 218.3L448.4 217.9L444.4 217.4L442.4 216.7L441.2 216.1L440.2 215.1L439.8 214.1L440.1 212.1L440.7 211.1L441.9 210.1L443.4 209.3L445.4 208.9L447.4 208.9L456.4 209.1L466.4 208.9L476.4 209L480.4 208.7L482.2 208.1L483.4 207.1L483.8 206.1L484.2 203.1L484.8 201.1L484.7 200.1L482.8 199.1L478.4 198.6L460.4 198.6L452.4 198.9L447.4 198.5L445.8 198.1L445.4 197.8L443.4 195.7L441.4 193.9L441 193.1L440.3 192.1L439.4 191.5L434.6 191.1L433.5 190.1L432.4 189.9L431.2 190.1L431.6 191.1L431.4 191.1L430.6 192.1L430.4 193.1L430.4 194.1L431.2 196.1L431.1 197.1L430.9 198.1L430.2 199.1L430.2 200.1L435.4 200.6L440.4 202L440.9 203.1L440.4 204.2L439.3 205.1L437.4 205.8L433.4 206.2L426.3 205.8L423.3 205.2L420.3 204L419.3 203.9L408.3 205.6L392.3 206.8L381.3 207.4L371.3 208.5L356.3 209.5L353.3 209.3L351.3 208.7L349.3 207.7L347.3 206.1L346.6 205.1L345.7 202.1L345.7 200.1L346.8 196.1L346.3 195.8L343.3 198L342.3 198.4L339.2 198.8L333.2 199L331.2 198.8L330.2 198.4L328.3 196.1L327.2 195.7L323.2 195.4L314.2 195.1L305.1 195.1L302.2 194.8L296.2 193.7L294.2 193.5L291.2 193.6L285.2 194.3L282.2 194.3L275.2 193.5L267 193.1L261.2 192.5L253.2 192.3L244.1 191.6L237.1 191.4L234.1 191.6L228.1 192.3L222.1 192.7L214.9 194.1L211.1 194.3L206.5 194.1L201.1 193.4L198.1 193.2L188.1 193.9L185.1 193.9L183.1 193.5L178.1 191.6L177.1 191.7L175.5 192.1L173.1 192.2L170.9 191.1L169.8 190.1L170.1 189.8L178.1 190.7L179.1 190.5L180.1 189.8L181.1 188.9L182.4 187.1L183.6 184L184.1 182L184 181L183.7 180L182.1 177L182.1 176L183.1 175.6L185.1 175.3L192.1 175.4L194.5 176L198.1 178.1L201.1 178.9L204.1 178.9L207.8 178L210.3 177L211.2 176L211.3 174L211.6 173L212.5 172L215.6 170L219.4 168L220.9 167L221.4 166L220.2 164ZM226.1 180.9L223.1 182L218.1 184.3L215.2 186.1L214.1 187.1L213.4 188.1L213 189.1L212.9 191.1L213.7 192.1L215.6 192.1L218.9 191.1L223.7 189.1L226.1 187.6L228 186.1L228.7 185L229.1 184L229.3 182L229.2 181L228.1 180.6L226.1 180.9ZM232.1 176L231.3 177L230.6 179L231.1 179.8L232.1 180L235.1 179.5L236.4 179L236.7 178L236.8 177L236.3 176L235.1 175.7L234.1 175.7L232.1 176ZM243.1 176.7L242.9 177L243.1 178.2L244.1 178.3L244.8 178L245.1 177L244.1 176.5L243.1 176.7ZM256.2 175.7L252.6 177L251.2 178L250.3 179L249.1 180.8L248.8 181L242.1 181.3L240.1 181.8L239.1 182.4L238.6 183L238.2 184L238.3 187.1L238.6 188.1L240.1 189.2L242.1 189.6L246.1 189.6L247.1 189.5L248.7 189.1L249.9 188.1L250.7 185L251.3 184L258.2 180L259 179L259.4 178L259.2 176L258.2 175.3L256.2 175.7ZM265.2 179.9L262.2 180.5L261.2 181.1L260.2 182L259.6 183L258.9 185L258.7 186.1L258.7 187.1L259.2 188.1L260.2 188.7L261.2 189.1L264.2 189.6L268.2 189.6L270.2 189.5L272.2 189.2L273.2 188.8L274.3 188.1L275 187.1L275.1 186.1L274.8 183L274.2 181.8L273.2 180.9L272.2 180.4L269.2 179.9L265.2 179.9ZM291.2 185L287.2 185.6L285.9 186.1L284.7 187.1L284.2 189.1L284.4 190.1L286.1 191.1L289.2 191.5L295.2 191.6L300.2 192L304.2 193.3L306.2 193.6L309.2 193.7L317.2 193.2L319.2 192.8L321.2 192.2L322.7 191.1L323.3 190.1L323.4 189.1L322.7 188.1L322.2 187.9L320.2 187.4L317.2 187.2L305.2 188.3L304.1 188.1L303.2 187.5L301.9 186.1L300.2 185.2L297.2 184.8L291.2 185ZM423.3 191.1L422.3 191.2L420.3 192.1L418.3 192.8L394.3 195.8L383.3 198.4L381.3 198.4L380.3 198.2L375.3 196.8L372.3 196.4L369.3 196.6L361.3 197.8L354.3 198.3L352.3 199.1L351.3 200.1L351.2 201.1L351.6 203.1L352 204.1L352.9 205.1L354.4 206.1L357.3 207L360.3 207.5L364.3 207.7L369.3 207.6L374.3 207.2L380.3 206.4L391.3 206.1L399.3 205.5L406.3 204.7L412.3 203.6L416.3 202.6L422.3 200.8L425.8 198.1L426.6 197.1L427.1 196.1L427.5 194.1L427.3 193.1L426.3 191.8L425.3 191.4L423.3 191.1ZM499.4 179.9L496.4 180.6L493.4 181.5L482.4 185.4L479.4 186.6L477.4 187L466.4 187.7L460.4 187.6L457.4 187.8L455.4 187.5L454.1 187.1L452.4 186.1L449.7 183L448.4 182.5L446.4 181.9L440.4 181.5L433.4 181.7L431.4 182.1L429.2 183L428.7 184L428.6 186.1L429.6 187.1L430.4 187.3L433.4 187.9L437.4 188.3L445.4 188.8L447.6 189.1L448.5 190.1L448.4 194.1L449 196.1L449.8 197.1L452.4 197.9L472.4 197.9L478.4 197.6L483.3 197.1L485.4 196.6L487.4 195.9L488.4 195.1L489.1 192.1L489.9 191.1L491.4 189.6L493.7 188.1L501.5 184L504.5 182L505 181L504.4 180L502.4 179.6L499.4 179.9ZM526.5 190.9L522.5 191.8L511.5 195.1L504.4 197.6L500.4 198.7L499.4 199.2L498.5 200.1L498.1 201.1L498.1 202.1L498.4 203.4L499.4 204L500.4 204L512.4 201.5L526.5 198.1L541.5 195.8L542.5 195.2L542.9 194.1L542.9 192.1L542.5 191.5L541.5 191L536.5 190.5L533.5 190.4L529.5 190.6L526.5 190.9ZM461.4 210.1L452.4 210.3L449.4 210.8L448.5 211.1L447.3 212.1L447 213.1L447 214.1L447.5 215.1L449.4 216L450.4 216.2L457.4 216.9L464.4 217.1L471.4 216.9L474.4 216.6L476.8 216.1L478.6 215.1L479.1 214.1L479.3 213.1L479.1 212.1L477.4 211.1L473.4 210.4L468.4 210L461.4 210.1ZM205.1 182L199.1 183.4L196.1 184.3L192.1 186L190.5 187.1L189.8 188.1L190 189.1L191 190.1L193.1 190.6L196.1 190.4L204.9 188.1L207.4 187.1L209 186.1L210 185L210.6 184L211.1 183L211.1 182L210.1 181.6L209.1 181.5L205.1 182ZM220.1 172.9L219 174L218.8 175L218.9 176L219.1 176.3L219.9 177L221.1 177.3L223.9 177L225.1 176.5L225.6 176L225.8 175L225.6 174L225.1 173.5L224.1 173L223.1 172.8L221.1 172.7L220.1 172.9ZM426.3 202L425.7 202.1L426.2 203.1L427.4 203.6L430.4 203.9L431.4 203.6L431.8 203.1L431.4 202.8L427.9 202.1L426.3 202ZM324.6 164L362.2 164L359.1 167L358.3 168L357.1 170L355.7 175L355.8 176L356.3 176.3L357.3 176.4L359.7 176L362.2 175L366.3 172.2L372.3 168.6L373.3 167.8L374.3 166.4L374.8 165L374.9 164L408.5 164L408.2 165L407.3 165.6L404.3 166L402.3 166.4L401.1 167L400.3 167.7L398.4 170L397.3 170.7L395.3 171.5L392.3 171.9L386.3 172.2L384.3 172.6L383.3 173L382.3 174L381.3 176L380.5 177L379.2 178L374.3 180.2L371.8 182L370.1 183L367.3 183.8L360.3 184.8L357.3 185.6L354.3 186.9L353.3 186.9L352.4 186.1L351.8 184L350.4 183L348.3 182.3L344.3 181.7L336.2 181.8L333.2 181.6L331.2 181L329.2 179.3L327.2 178.4L323.2 177.5L317.8 177L316.2 176.6L315.4 176L315.8 175L317.4 174L321.2 172.4L323.2 171L324 170L324.6 169L324.9 168L324.6 164ZM359.3 179L357.5 180L357.2 181L357.4 182L357.9 183L358.3 183.3L359.3 183.6L361.3 183.8L367.3 183.1L369.4 182L370 181L369.9 180L368.7 179L367.3 178.6L365.3 178.4L361.3 178.6L359.3 179ZM450.5 164L459.3 164L458.4 164.3L455.5 165L453.4 165.1L452.3 165L451.4 164.7L450.5 164ZM499.8 164L511.8 164L512.2 166L512.2 167L511.4 167.5L510.4 167.7L508.4 167.7L506.4 167.3L502.2 166L500.6 165L499.8 164ZM523.3 164L559.5 164L559.5 168.4L554.5 170.2L549.5 172.4L546.1 174L543.5 176L540.5 176.9L530.5 177.7L527.5 177.5L524.8 177L523.2 176L522.9 175L523.5 173.9L524.3 173L524.2 172L519.9 170L518.7 169L519 168L521.5 166.1L523.3 164ZM407.9 169L409.3 168.5L411.3 168.5L413.3 169L416.3 170.2L418.3 170.6L422.3 171L423.3 171.3L424.7 172L425.3 173L425.9 175L426 176L425.5 177L424.3 177.9L423.3 178.4L420.3 179.2L417.3 179.6L410.3 180.2L408.3 180.3L406.7 180L406.1 179L405.8 177L406.9 174L404.3 172L404.3 171L405.6 170L407.9 169ZM468.3 169L470.9 169L471.4 169.2L472.5 170L472.9 171L472.9 173L472.6 174L471.5 175L469.4 175.9L463.4 177.8L460.4 178.5L456 179L453.4 179.4L451.4 178.5L450.8 178L450.7 177L451.7 175L452.2 173L452.4 172.8L453.5 172L457.4 171.5L463.4 169.9L468.3 169ZM555.2 179L559.5 178L559.5 183L557.9 183L555.5 183L554.5 182.8L553.1 182L552.7 181L553.1 180L555.2 179ZM387 186.1L390.3 185.3L391.3 185.4L392.7 186.1L393.4 187.1L392.9 188.1L389.3 190.3L387.5 191.1L383.3 191.6L382.3 191.6L381.3 191.3L381.1 191.1L381.2 190.1L383.1 188.1L384.7 187.1L387 186.1ZM156 197.1L162 196.7L166.1 196.9L170.1 197.9L173.5 199.1L172.7 200.1L170.1 201.2L166.1 202.2L156 203.2L154 203.9L152.2 205.1L149.2 206.1L144 206.9L140 207.2L120 207L119 206.9L119 204.2L120.3 205.1L124 205.7L135 206L140 205.9L143 205.6L145.3 205.1L147.2 204.1L148.9 202.1L150 201.5L153 200.9L163.1 200.9L167.1 200.5L168.5 200.1L169.1 199.1L166.9 198.1L165.1 197.8L162 197.8L158.5 198.1L152 199.4L150 199.6L140 198.9L126 198.8L122 199.3L119.3 200.1L119 200.5L119 198.8L123 198.3L127 198.1L148 198.1L156 197.1ZM554.5 201.1L556.5 200.6L559.5 200.5L559.5 202.7L557.5 202.8L556.3 203.1L555.5 204.1L555.2 206.1L555.5 207.1L556.5 207.6L557.5 207.8L559.5 207.8L559.5 213.1L553.5 212.7L547.6 214.1L544.5 214.5L535.5 214.9L530.5 214.8L525.5 214.2L523.5 213.6L522.6 213.1L521.8 212.1L521.3 210.1L521.6 209.1L522.7 208.1L525.1 207.1L530.5 206.6L539.5 206.4L544.5 205.9L545.5 205.9L549.5 206.5L550.5 206.4L551.5 205.7L553 202.1L553.5 201.6L554.5 201.1ZM531.5 208.1L529.5 208.4L527.4 209.1L526.6 210.1L526.9 211.1L527.6 212.1L530.5 213.1L532.5 213.3L537.5 213.6L541.5 213.4L543.1 213.1L545.2 212.1L545.8 211.1L545.9 210.1L545.2 209.1L543.5 208.5L540.5 208L535.5 207.8L531.5 208.1ZM309.2 209.1L314.2 208.7L316.2 208.7L319 209.1L320.4 210.1L320.3 211.1L319.9 212.1L318.9 213.1L313.1 215.1L294.7 220.1L291.2 221.1L288.2 221.7L287.2 221.8L286.2 221.5L285.5 221.1L284.6 220.1L284.3 219.1L284.4 217.1L284.8 216.1L285.2 215.7L286 215.1L289.2 213.6L293.3 212.1L299.2 210.8L309.2 209.1ZM308.2 210L302.3 211.1L297.2 212.4L294.2 213.5L291.4 215.1L290.5 216.1L290.1 217.1L290 218.1L290.3 219.1L291.2 219.7L292.2 219.8L296.2 219.1L307.5 216.1L313.7 214.1L315 213.1L315.5 212.1L315.7 211.1L315.3 210.1L314.2 209.8L312.2 209.6L308.2 210ZM273.3 212.1L277.2 211.5L280.2 211.7L281.4 212.1L283 213.1L283.5 214.1L283.2 215.1L281.2 216.6L276.2 218.8L273.2 219.8L269.2 220.8L264.2 221.8L261.2 222L260.2 221.8L259.5 221.1L259.5 220.1L259.7 219.1L260.3 218.1L261.2 217.1L263.9 215.1L267.2 213.7L273.3 212.1ZM272.2 213L268.3 214.1L266.1 215.1L264.8 216.1L264.1 217.1L263.9 218.1L264.1 219.1L265.2 219.7L267.2 219.7L270.2 219.1L275.2 217.6L277.2 216.7L278.2 216.1L279.5 215.1L279.9 214.1L279.4 213.1L278.2 212.5L277.2 212.3L275.2 212.4L272.2 213ZM174.6 213.1L178.1 212.5L181.1 212.3L193.1 212.9L200.1 213.6L208.1 214.8L215.1 215.3L217.1 215.7L221.1 217L224.1 217.5L236.1 218.3L246.1 219.5L251.1 220.5L258.2 222.4L259.2 223L260.6 224.1L267.2 226.9L274.2 227.1L277.2 227.4L279.8 228.1L282.2 228.6L283 229.1L284.2 229.5L285.2 229.5L287.2 229.1L297.2 228L306.2 228.4L311.2 228.2L312.2 228.4L314.1 229.1L315.2 229.2L318.2 228.6L324.2 228L342.3 226.6L346.3 226.6L352.3 227.1L353.3 226.9L355.4 226.1L358.3 225.6L363.3 225.6L365.3 224.8L366.6 224.1L371.3 223.3L378.3 222.9L381.3 223.1L382.9 224.1L383.1 225.1L382.3 225.5L380.3 225.8L373.3 225.9L369.3 226.6L367.5 227.1L368.3 228.1L367.8 231.2L367.5 235.2L367.6 236.2L368.5 237.2L370.3 237.6L373.3 237.6L386.3 238.5L414.3 239L429.4 238.2L446.4 237.6L455.4 237.7L467.4 237.5L480.4 236.4L486.4 236.1L511.4 235.6L514.4 235.4L530.5 233.1L532.5 232.5L534.7 231.2L537.2 230.1L539.5 229.7L549.9 229.1L559.5 229L559.5 230.7L557.5 230.4L555.5 230.3L544.5 230.6L540.3 231.2L539.1 232.2L539.2 233.2L540.5 234L541.5 234.2L555.5 234.5L557.5 234.4L559.5 234L559.5 236.2L534.5 236.2L532.5 236.9L528 240.2L525.5 241.2L520.5 243.9L516.5 244.2L510.7 245.2L508.4 245.8L496.8 246.2L490.4 246.7L485.4 247.3L481.8 248.2L477.4 249.8L471.4 250.9L457.4 251.7L442.4 251.3L417.3 251.8L407.3 251.2L405.3 251.4L400.3 252.2L397.3 252.3L391.3 252.1L382.3 252.8L380.3 252.8L377.3 250.7L375.3 250L372.3 249.7L369.9 249.2L368.3 248.5L366.8 248.2L365.3 247.5L363.7 247.2L362.3 246.5L360.8 246.2L360.3 245.7L359.3 245.2L359.9 244.2L360.3 244L364.4 242.2L365.2 241.2L364.8 240.2L364.3 239.9L360.3 240.1L358.3 240L352.3 238.6L349.3 238.3L339.2 239L337.2 238.5L334.8 237.2L332.2 236.9L328.2 236.9L324 237.2L314.2 238.9L310.2 239.3L306.2 239.3L296.2 238.8L281.2 238.7L277.2 238.3L267.2 236.8L259.2 235.9L250.1 234.1L241.1 233.8L221.1 231.9L212.1 231.5L202.1 230.3L183.1 229.5L172.1 228.7L160 229L132 230.9L119 231.3L119 230.2L131 229.9L140 229.3L147.3 229.1L172.1 227.3L175.1 227.4L184.1 227.9L194.1 227.4L202.1 227.8L212.1 228.8L221.1 229L237.1 230.8L243.1 231.2L251.2 231.5L261.1 234.2L265.2 234.8L275.8 237.2L282.2 237.9L297.2 237.6L307.2 238L311.2 237.5L319.2 236L326.2 235.3L336.2 234.8L343.3 235.1L346.3 234.6L347.4 234.2L348.4 233.2L348.7 232.2L348.5 231.2L347.9 230.1L346.7 229.1L345.3 228.6L343.3 228.3L339.2 228.3L334.2 228L329.2 228.1L318.9 229.1L315.2 230L307.2 230.8L296.2 230.5L284.2 230.8L281.2 230.6L273.2 229.5L261.2 227.3L259.2 226.7L253.5 224.1L250.1 223.3L222.1 219.6L213.1 218.1L199.1 217.4L194.1 216.7L188.1 215.6L179.1 214.4L177.1 214.4L175.1 214.8L168.1 217.1L164.1 218.2L153 219.1L150 219.6L148 220.1L141 222.6L127 224.5L119 224.7L119 222.4L128 222.2L134 221.4L141 220.7L150 218.6L164.1 216.5L167.1 215.7L174.6 213.1ZM523.5 235.1L511.4 236.5L499.4 236.5L481.4 237.1L468.4 238.7L454.4 239.9L432.4 239.6L411.3 240.3L375.3 239.6L372.7 240.2L372 241.2L371.6 242.2L371.7 243.2L373.3 244.1L374.3 244.3L383.3 245.1L403.3 248.6L415.3 249.8L432.4 250.4L443.4 250.4L454.4 250.9L458.4 250.7L465.4 249.8L472.4 248.2L482.4 246.2L490.4 245.1L507.4 243.5L520.5 241.3L523.5 240.3L525.8 239.2L528.9 237.2L529.8 236.2L529.5 235.6L528.5 235.1L523.5 235.1ZM153.2 242.2L162 241.6L173.1 241.6L184.7 242.2L190.1 242.8L192.7 243.2L191.2 244.2L178.1 245.4L172.1 245.6L160 245.6L149 246.4L144 246.4L141.2 246.2L140 245.2L141.8 244.2L146.4 243.2L153.2 242.2ZM120.7 245.2L125 245L128 245.1L136 246.3L136.9 247.2L136.1 248.2L135.7 251.2L135 252.6L134 252.9L132 253L119 251.9L119 245.3L120.7 245.2ZM516.4 246.2L519.5 245.5L521.5 245.4L526.2 246.2L532.5 246.7L559.5 247.3L559.5 253.2L551.5 253.8L543.5 253.8L534.5 253.4L523.5 254L522.1 254.2L521.1 255.2L516.5 256.2L503.4 257L494.1 256.2L487.4 255.2L483.1 254.2L481.9 253.2L483.4 252.7L484.4 252.6L492.4 252.6L502.4 251.8L504.9 251.2L506.1 250.2L507.4 248.2L508.4 247.6L510.4 246.9L516.4 246.2ZM519.5 248L518.9 248.2L517.6 249.2L517.2 250.2L518 251.2L521.5 251.8L528.5 252.2L542.5 252.4L549.5 252.2L554.5 251.7L556.7 251.2L557.6 250.2L557.3 249.2L554.5 248.2L542.5 247.6L526.5 247.3L522.5 247.5L519.5 248ZM212.5 249.2L216.1 249.3L223.2 250.2L228.6 251.2L230.1 251.8L232.2 252.2L230.1 252.5L226.1 253.2L224.1 253.7L222.1 253.9L220.1 253.8L213.1 252.7L211.2 252.2L210.7 251.2L211.1 250L212.5 249.2ZM266.6 254.2L272.2 253.6L277.2 253.4L291.2 253.9L313.2 254.1L325.2 254.5L333.2 255.4L336.7 256.2L338.1 257.2L339 259.2L339.2 259.7L340.3 260.4L341.3 260.6L346.3 260.9L354.3 261.9L357.3 261.9L359.3 261.6L362.3 260.8L364.3 259.9L365.3 259.2L367.8 258.2L371.3 258.2L371.3 259.2L367 261.2L366.4 262.2L366.4 264.2L366.3 264.6L366 265.2L365.3 265.5L363.3 266L358.3 266.8L350.3 268.8L346.3 269.5L336.2 269L327.2 269.4L320.2 268.5L315.2 268.3L313.2 268L311.2 267.2L310.2 266.2L309.7 265.2L308.5 264.2L307.2 264.1L302.2 263.9L298.9 263.2L294.2 263L278.6 263.2L273.1 264.2L272.3 265.2L273.2 266.2L277.2 267.2L283.2 268.4L285.8 269.2L286.7 270.2L287.1 271.2L286.9 272.2L286.2 273L285.2 273.6L281.2 274.6L276.2 275.3L268.2 275.9L266.2 275.7L264.5 275.3L263.9 274.2L264 273.2L264.6 272.2L264.9 271.2L263.7 270.2L262.2 269.9L260.2 269.7L257.2 269.8L247.1 270.9L230.1 270.7L223.1 271L219.1 271L210.1 269.9L200.1 269.7L196.1 269.3L195.1 269.1L193.6 268.2L191.8 266.2L190.1 265.2L186.1 264.7L181.1 264.9L177.3 265.2L172.7 266.2L173.1 266.8L174.1 267.4L178.1 268.2L181.1 269.1L181.5 269.2L182.1 269.8L182.3 270.2L180.7 271.2L179.7 272.2L179.2 273.2L179.3 274.2L180.2 275.3L182.1 276.1L184.1 276.8L187.2 277.3L190.1 278.2L192.1 278.5L195.1 278.4L200.4 277.3L203.1 277.2L210.5 277.3L217.1 278L229.7 278.3L230.9 279.3L233.1 279.8L235.1 280L239.1 279.5L241.1 279.6L246.1 280.8L251.2 281.3L252.2 281.6L253.4 282.3L256.5 283.3L258.2 283.5L265.2 283.7L271.2 284.2L277.2 284.2L285.2 283.8L291.2 283L295.2 283.4L298.2 283.4L305.2 282.7L312.2 282.3L316.2 281.4L325.2 278.9L327.2 278.5L345.3 278L350.9 277.3L353.7 275.3L355.3 275L358.3 275L360.6 275.3L362.1 276.3L362.7 277.3L366.3 277.8L369.3 277.8L373.6 277.3L380.3 275.5L386.3 275.1L389.3 274.7L391.7 274.2L395.3 273L397.3 272.6L399.3 272.6L404.4 274.2L407.3 274.6L418.3 275.2L425.3 274.6L427.4 274.6L433.4 275.3L437.5 275.3L442.8 274.2L444.9 273.2L446.2 272.2L449.4 271.1L453.4 269.2L457.4 268.8L464.4 268.6L475.4 269.6L490.4 269.8L500.4 270.8L504.4 271L508.4 270.8L513.4 270.2L522.5 269.8L528.5 269.2L530.5 269.4L532.5 270.1L534 271.2L535.4 273.2L536.5 274.3L538.1 275.3L541.5 276L546.5 276.2L550.5 275.8L553 275.3L559.5 273.2L559.5 283.5L555.9 283.3L547.5 282.9L545.5 282.5L539.5 280.7L531.5 279.7L528.5 278.7L522.7 276.3L520.5 275.7L517.5 275.3L509.4 275.1L504.4 274.7L501.4 274.1L496.4 272.2L492.4 271.7L490.4 271.7L487.4 272.2L485 273.2L478.8 275.3L476.7 276.3L475.7 277.3L475.5 278.3L476 281.3L475.8 282.3L474.2 283.3L471.4 283.7L467.4 283.8L463.8 283.3L461.2 282.3L460.5 281.3L460.5 280.3L459.9 279.3L457.4 278.1L455.4 277.8L453.4 277.7L442.9 278.3L434.4 279.4L419.3 278.7L414.3 278.8L404.3 280L396.8 280.3L388.3 281.4L385.7 282.3L385.8 283.3L388.3 284L396.3 284.9L412.3 287.1L413.3 287.4L414.5 288.3L413.8 289.3L413.3 289.4L406.7 290.3L402.3 290.6L397.3 290.6L386.3 290L377.3 290.2L362.3 289.9L355.3 289.3L354.9 288.3L355.3 288L356.4 287.3L360.9 285.3L362.1 284.3L361.7 283.3L358.3 282.1L354.3 281.6L350.3 281.4L336.7 282.3L327.2 283.2L323.2 284.1L315.2 286.6L312.2 287L303.2 287.1L294.2 287.4L287.2 286.7L285.2 286.7L282.2 287L277.2 288.3L275.2 288.7L273.2 288.7L267.2 288.4L265.2 288.6L261.2 289.6L259.2 289.9L257.2 289.8L254.2 289L252.2 288.9L247.1 289.1L240.1 289L236.1 289.2L232.1 290L226.1 291.4L217.1 292L213.1 292.5L211.1 292.9L206.6 294.3L202.3 295.3L196.1 296.3L192.1 296.6L186.1 296.5L180.1 296L175.5 295.3L167.1 293.1L158 292.4L152 291.4L143.9 291.3L140 290.4L136.1 289.3L134 289L130 289L123 290L119 290L119 279.3L122 279L129 277.1L136 275.9L139 276.3L142 277.5L144 278L147 278L151.2 277.3L160 274.3L162 274L167.1 273.8L170.1 273.5L172.1 273.1L173.7 272.2L174.1 271.2L173.9 270.2L173.1 269L172.1 268.5L170.1 268.3L165.1 268.2L161.9 266.2L157.7 265.2L154 264.8L151 264.7L143 265.3L141 265L140 264.7L138 263.3L137.2 262.2L137 261.2L137.1 258.2L138 257L140 256.1L142 255.4L144 255L146 254.9L154 255.2L165.1 255.1L180.1 255.4L185.1 255.9L191.1 257.3L193.1 257.6L207.1 257.7L211.1 257.9L216.1 257.6L221.1 256.5L223.1 256.3L229.1 257.3L245.1 257.5L254.2 258.4L255.2 258.4L256.2 258L258.2 256L260.2 255L262.2 254.6L266.6 254.2ZM270.2 255L265.2 256L263 256.2L262.2 256.4L260.6 257.2L259.2 259.2L258.8 260.2L259.2 261.2L261.2 261.8L271.2 261.9L285.2 261.4L296.2 261.4L310.2 261.7L325.2 262.9L331.2 263.4L333.2 263.2L335.2 262.5L335.6 262.2L335.9 261.2L335.1 258.2L334.5 257.2L333.2 256.8L326.2 255.6L323 255.2L314.2 254.9L292.2 254.8L278.2 254.3L274.2 254.5L270.2 255ZM183.1 281.3L179.1 282.1L176.3 283.3L173.2 285.3L173.3 286.3L175.6 287.3L182.1 288.5L187.1 288.8L195.1 288.7L200.1 288.3L202.1 287.9L203.6 287.3L204.3 286.3L204 285.3L203.2 284.3L202 283.3L200.1 282.4L198.1 282L186.1 281.2L183.1 281.3ZM156 257.2L148.4 258.2L147 259.2L147 260.2L148 261.2L160.4 263.2L165.1 263.3L170.1 263L177.4 262.2L180.4 261.2L180.9 260.2L181 259.2L180.1 258.2L175.1 257.3L169.1 256.9L162 256.8L156 257.2ZM218.1 260.1L212.5 261.2L210.1 262.2L209.2 263.2L208.4 265.2L209 266.2L211.5 267.2L217.1 268.2L221.1 268.4L224.1 268.3L230.1 267.6L233.1 267.4L238.1 267.5L245.1 268L247.1 268L250.1 267.6L251.9 267.2L254.1 266.2L254.8 265.2L254.4 263.2L253.7 262.2L252 261.2L251.2 261L249.1 260.5L246.1 260.2L238.1 260.4L223.1 259.8L218.1 260.1ZM135.4 266.2L137 265.7L138 265.8L138.7 266.2L139.2 267.2L139 268.2L138 269L136 269.8L134 270.1L132 270.5L131.2 270.2L130.9 269.2L131.3 268.2L132.7 267.2L135.4 266.2ZM303.9 274.2L305.2 274L308.2 274.2L309 275.3L307.2 275.7L305.2 275.8L303.5 275.3L303.9 274.2ZM390.9 330.4L398.3 329.6L407.3 329.7L412.3 329.8L422.3 330.8L424.6 331.4L425.9 332.4L428 335.4L428.7 337.4L430.4 338.3L434.4 339.4L439.4 340.2L445.4 340.4L462.4 340L473.4 340.4L484.4 340.2L494.4 339.7L498.6 339.4L503.4 338.7L504.5 338.4L506.6 337.4L507.4 336.4L509.4 332.9L510.4 331.9L511.4 331.4L512.4 331.2L517.6 330.4L525.5 329.9L539.5 330.3L559.5 330.2L559.5 348.8L553.5 348.6L548.5 349.3L538.1 348.4L521.5 348L507.4 348.1L504.4 348.4L501.1 349.4L500.1 350.4L499.9 352.4L500.6 353.4L503.6 354.4L506.4 354.8L511.4 355.1L517.5 355.1L534.5 354.8L540.6 354.4L547.5 353.7L549.5 353.9L553.5 354.5L559.5 354.4L559.5 358L525.5 358.1L515.5 358.8L507.4 358.7L487.4 359.3L485.4 359.6L484.4 360L483.8 360.4L483.5 361.4L483.7 362.4L484.2 363.5L485.4 364.1L486.4 364.3L500.4 365.3L511.4 366.4L516.5 366.6L537.5 366.7L552.5 367.4L559.5 367.4L559.5 373.1L550.5 372.9L539.4 373.5L536.5 373.8L533.6 374.5L532.8 375.5L532.9 376.5L533.8 377.5L535.5 378L538.5 378.6L546.5 379.1L559.5 378.5L559.5 384.5L224.1 384.5L119 384.5L119 378.8L131 379.1L140 379L143 378.6L144 378.3L145.6 377.5L145.9 376.5L145.6 375.5L144 374.7L142 374.3L125 373.9L119 374.1L119 369.7L127 369.8L136 370.4L147 369.9L162 369.7L172.1 369.2L183.1 368.1L196.1 367.6L213.1 365.9L227.1 365.8L234.1 366.1L244.1 367.2L255.2 367.4L264.2 368.5L273.2 369.2L285.2 370.7L287.2 370.7L290.2 370.4L291.2 370.2L292.7 369.5L293 368.5L292.7 367.5L292.2 367.2L289.2 366.5L285.2 366.4L269.2 361.2L266.2 360.5L246.1 358.5L227.1 357.8L218.1 357.7L199.1 358.6L186.1 359.6L155 360.2L140 360L119 358.9L119 355.8L135 355.9L141 355.7L143.5 355.4L146 354.7L146.5 354.4L146.6 353.4L146.1 352.4L144.6 351.4L140 350.5L136 350.3L119 350.2L119 337.4L123 337.4L133 336.8L143 337.2L153 337.2L166.1 338.2L177.1 339.9L182.1 340.2L188.1 339.7L196.1 338.4L201.1 338.1L211.1 338.3L218.1 338L242.1 337.9L252.2 337.3L263.2 337.5L271.2 337.3L293.2 337.3L297.2 336.8L304.2 335.4L311.2 334.3L322.2 333.7L336.2 332L350.3 331.1L359.3 331.2L369.3 330.7L379.3 330.9L390.9 330.4ZM447.4 356.4L445.4 356.7L443.1 357.4L442.4 358.4L442.5 359.4L443.1 360.4L445.7 361.4L449.4 362L454.4 362.2L459.4 362L465.4 361.6L467.4 361.2L469.4 360.4L469.9 359.4L469.7 358.4L469.4 358.1L468.6 357.4L467.4 357.1L463.4 356.5L454.4 356.1L450.4 356.1L447.4 356.4ZM520.5 373.4L520 374.5L520 375.5L520.5 376.5L521.5 376.9L524.5 377.2L526.5 377.1L527.5 376.8L527.9 376.5L528.4 375.5L528.3 374.5L527.5 373.4L526.5 373L524.5 372.8L521.5 373L520.5 373.4ZM168.1 378.2L167.5 378.5L167.1 379.5L167.3 380.5L169.1 381.2L171.1 381.4L175.1 381.4L177.1 381.2L178.1 380.8L178.6 380.5L178.5 379.5L177.7 378.5L177.1 378.3L175.1 378L171.1 377.8L169.1 378L168.1 378.2ZM211.1 374.4L210.1 374.6L207.9 375.5L207.9 376.5L210.1 377.3L212.1 377.6L228.1 378.1L239.1 377.6L246.2 377.5L248.1 377.2L250.7 376.5L250.8 375.5L249.1 374.9L247.1 374.4L229.1 374L216.1 374L211.1 374.4ZM281.2 376.3L280.4 376.5L280.2 377.5L282.2 378L288.2 378.1L291.2 377.6L291.6 377.5L291.4 376.5L290.2 376.2L285.2 375.9L281.2 376.3ZM241.1 342.4L227.1 342.5L222.1 342.8L214.1 343.7L205.1 343.7L200.1 344L186.1 345.5L181.5 346.4L172.1 348.9L166.1 349L162.6 349.4L160.6 350.4L160 351.4L160.4 352.4L162 352.9L164.1 353.2L173.1 353.4L184.1 354.2L193.1 354L203.1 354.7L212.1 354.6L234.1 354.6L245.1 354.1L255.2 354.7L267.2 353.1L279.2 352.3L285.8 352.4L289.2 351.8L290.2 351.3L291.3 350.4L291.9 349.4L292.1 348.4L291.9 347.4L291.1 345.4L289.6 343.4L288.2 342.4L286.2 341.8L283.2 341.5L275.2 341.5L262.2 342.1L252.2 342L241.1 342.4ZM385.3 350.3L384.3 350.7L383.3 351.4L383.2 352.4L384 353.4L384.3 353.5L386.3 353.9L389.3 354L393.3 354L396.3 353.7L397.3 353.4L398.3 352.4L398.5 351.4L397.2 350.4L393.3 350L388.3 350.1L385.3 350.3Z"/>
<path fill="#ffff1e" stroke="#ffff1e" stroke-width="0.5" fill-rule="evenodd" d="M119 164L128.7 164L129 165L130.4 168L130.5 170L129.8 172L129 173.1L128 173.8L126 174.8L124 175.3L122 175.7L119 176L119 164ZM177.8 164L220.2 164L221.4 166L220.9 167L219.4 168L215.6 170L212.5 172L211.6 173L211.3 174L211.2 176L210.3 177L207.8 178L204.1 178.9L201.1 178.9L198.1 178.1L194.5 176L192.1 175.4L185.1 175.3L183.1 175.6L182.1 176L182.1 177L183.7 180L184 181L184.1 182L183.6 184L182.4 187.1L181.1 188.9L180.1 189.8L179.1 190.5L178.1 190.7L170.1 189.8L169.8 190.1L170.9 191.1L173.1 192.2L175.5 192.1L177.1 191.7L178.1 191.6L183.1 193.5L185.1 193.9L188.1 193.9L198.1 193.2L201.1 193.4L206.5 194.1L211.1 194.3L214.9 194.1L222.1 192.7L228.1 192.3L234.1 191.6L237.1 191.4L244.1 191.6L253.2 192.3L261.2 192.5L267 193.1L275.2 193.5L282.2 194.3L285.2 194.3L291.2 193.6L294.2 193.5L296.2 193.7L302.2 194.8L305.1 195.1L314.2 195.1L323.2 195.4L327.2 195.7L328.3 196.1L330.2 198.4L331.2 198.8L333.2 199L339.2 198.8L342.3 198.4L343.3 198L346.3 195.8L346.8 196.1L345.7 200.1L345.7 202.1L346.6 205.1L347.3 206.1L349.3 207.7L351.3 208.7L353.3 209.3L356.3 209.5L371.3 208.5L381.3 207.4L392.3 206.8L408.3 205.6L419.3 203.9L420.3 204L423.3 205.2L426.3 205.8L433.4 206.2L437.4 205.8L439.3 205.1L440.4 204.2L440.9 203.1L440.4 202L435.4 200.6L430.2 200.1L430.2 199.1L430.9 198.1L431.1 197.1L431.2 196.1L430.4 194.1L430.4 193.1L430.6 192.1L431.4 191.1L431.6 191.1L431.2 190.1L432.4 189.9L433.5 190.1L434.6 191.1L439.4 191.5L440.3 192.1L441 193.1L441.4 193.9L443.4 195.7L445.4 197.8L445.8 198.1L447.4 198.5L452.4 198.9L460.4 198.6L478.4 198.6L482.8 199.1L484.7 200.1L484.8 201.1L484.2 203.1L483.8 206.1L483.4 207.1L482.2 208.1L480.4 208.7L476.4 209L466.4 208.9L457.4 209.1L446.4 208.9L444.1 209.1L441.9 210.1L440.7 211.1L440.1 212.1L439.8 214.1L440.2 215.1L441.2 216.1L442.4 216.7L444.4 217.4L447.4 217.8L461.4 218.3L471.4 218.3L477.1 218.1L480.4 217.8L484 217.1L486 216.1L489.6 213.1L495.1 210.1L497.6 208.1L500.1 207.1L503.4 206.5L507.4 206.3L509.4 206L513.7 204.1L520.5 201.9L524 200.1L526.5 199.4L529.5 199L536.5 198.6L541.5 197.9L542.5 197.7L543.5 197L544.3 196.1L544.6 195.1L545.2 192.1L545.2 191.1L544.2 190.1L542.5 189.7L535.5 189.6L529.5 189.6L519.5 190.4L514.4 191.5L504.8 195.1L502.4 195.6L501.4 195.6L500.4 195.3L499 194.1L496.4 192.5L495.1 191.1L495.1 190.1L496.1 189.1L497.7 188.1L503.4 185.8L505.4 184.8L510.4 180.7L513.1 179L513.9 178L514.2 177L514.2 176L513.4 175.3L512.4 175.3L509.4 176L505.4 176.6L496.4 178.5L493.4 179.3L487.5 182L482.4 183.7L479.4 184.9L472.4 186.5L467.4 187L463.4 187.1L460.4 186.9L457.4 187L456.4 186.6L455.7 186.1L455 184L454.9 181L454.4 180.4L453.4 180.2L444.4 179.8L430.4 180.3L428.4 180.6L426.3 181.4L425.5 182L424.8 183L424.2 185L423.6 186.1L422.7 187.1L420.3 188.8L414.3 191.7L410.3 192.8L402.3 194.2L390.3 195.7L387.3 194.9L384.3 194.7L380.3 193.2L378.3 193L377.3 193.2L372.3 194.8L364.3 196.6L360.3 197.1L354.3 197.3L352.3 197.6L351.3 197.4L350.7 197.1L349.7 196.1L349.3 195.2L348.6 195.1L348.1 193.1L341.3 192.2L333.2 192.3L330.2 191.9L328.9 191.1L328.3 190.1L328 188.1L327.6 187.1L326.5 186.1L325.2 185.6L324.2 185.4L316.2 185L314.3 184L312.5 181L312.2 180.7L310.9 180L308.2 180L301.2 180.7L298.2 181.3L292.2 182.8L288.2 183.4L286.2 183.4L285.3 183L284.8 182L284.6 181L284.4 178L284.6 176L285 175L285.8 174L287.2 172.9L290.2 171L292.7 168L297.5 164L324.6 164L324.9 168L324.6 169L324 170L323.2 171L321.2 172.4L317.4 174L315.8 175L315.4 176L316.2 176.6L317.8 177L323.2 177.5L327.2 178.4L329.2 179.3L331.2 181L333.2 181.6L336.2 181.8L344.3 181.7L348.3 182.3L350.4 183L351.8 184L352.4 186.1L353.3 186.9L354.3 186.9L357.3 185.6L360.3 184.8L367.3 183.8L370.1 183L371.8 182L374.3 180.2L379.2 178L380.5 177L381.3 176L382.3 174L383.3 173L384.3 172.6L386.3 172.2L393.3 171.8L396.3 171.1L398.4 170L400.3 167.7L401.3 166.9L403.3 166.1L407.3 165.6L408.2 165L408.5 164L450.5 164L451.4 164.7L452.3 165L453.4 165.1L455.5 165L459.3 164L499.8 164L500.6 165L502.4 166.1L506.4 167.3L509.4 167.8L511.4 167.5L512.2 167L512.2 166L511.8 164L523.3 164L521.5 166.1L519 168L518.7 169L519.9 170L524.2 172L524.3 173L523.5 173.9L522.9 175L523.2 176L524.8 177L529.5 177.7L532.5 177.6L540 177L542.5 176.5L543.5 176L546.1 174L548.1 173L554.5 170.2L559.5 168.4L559.5 178L557.5 178.4L554.5 179.3L553.1 180L552.7 181L553.1 182L554.5 182.8L556.5 183.1L559.5 183L559.5 190.3L555.5 190.4L554.5 190.7L553.8 191.1L553.1 192.1L553.1 194.1L553.1 195.1L553.5 195.8L554.5 196.5L556.5 196.8L559.5 196.8L559.5 200.5L555.5 200.7L553.5 201.6L553 202.1L552.5 203.1L551.5 205.7L550.5 206.4L549.5 206.5L545.5 205.9L544.5 205.9L540.5 206.4L532.5 206.5L525.5 207L524.5 207.3L522.7 208.1L521.6 209.1L521.3 210.1L521.8 212.1L522.6 213.1L524.5 213.9L526.5 214.4L533.5 214.9L542.5 214.6L547.6 214.1L552.5 212.9L554.5 212.7L559.5 213.1L559.5 215.6L552.5 215.5L537.5 216.1L526.5 217.4L519.5 219.2L514.4 220.3L510.4 220.6L504.4 220.4L481.4 219.7L454.4 219.7L447.4 220.1L443.4 220.8L440.4 221.7L433.5 224.1L429.8 225.1L421.3 226.7L416.3 227.2L379.3 228.6L376.3 228.9L371.3 229.7L370.3 230.2L369.7 231.2L369.6 234.2L369.7 235.2L370.3 235.7L371.3 236.2L380.5 237.2L388.3 237.6L412.3 237.9L417.3 237.7L432.4 236.5L442.9 235.2L446.4 234.9L451.4 235L469.4 236.2L484.4 235.5L510.4 234.9L515.5 234.4L522.9 233.2L528.5 231.8L535.5 229.5L538.5 228.9L542.5 228.6L559.5 228L559.5 229L549.9 229.1L539.5 229.7L537.2 230.1L534.7 231.2L532.5 232.5L530.5 233.1L512.4 235.6L483.4 236.3L467.4 237.5L455.4 237.7L446.4 237.6L412.3 239L386.3 238.5L373.3 237.6L370.3 237.6L368.5 237.2L367.6 236.2L367.5 235.2L367.9 230.1L368.3 228.1L367.5 227.1L369.3 226.6L373.3 225.9L380.3 225.8L382.3 225.5L383.1 225.1L382.9 224.1L381.5 223.1L379.3 222.9L372.8 223.1L370.3 223.4L366.6 224.1L365.3 224.8L363.3 225.6L358.3 225.6L355.4 226.1L353.3 226.9L352.3 227.1L346.3 226.6L342.3 226.6L324.2 228L318.2 228.6L315.2 229.2L314.1 229.1L312.2 228.4L311.2 228.2L306.2 228.4L297.2 228L287.2 229.1L285.2 229.5L284.2 229.5L283 229.1L282.2 228.6L279.8 228.1L277.2 227.4L274.2 227.1L267.2 226.9L260.6 224.1L259.2 223L258.2 222.4L251.2 220.5L246.1 219.5L236.1 218.3L224.1 217.5L221.1 217L217.1 215.7L215.1 215.3L208.1 214.8L198.1 213.4L192.1 212.8L181.1 212.3L178.1 212.5L175.1 213L167.1 215.7L164.1 216.5L150 218.6L141 220.7L134 221.4L128 222.2L119 222.4L119 218.7L126 218.7L138 219.2L143 218.9L153.9 217.1L161 215.7L165.1 214.7L174.1 211.9L189 209.1L195.1 208.4L205.1 207.8L214.1 207L220.1 206.7L225.1 206.8L226.4 207.1L225.1 207.4L223.1 207.5L222.1 207.8L221.1 208.5L220.6 209.1L220.3 210.1L220.2 212.1L220.4 214.1L221.3 215.1L223.1 215.7L226.1 215.8L229.1 215.6L230.6 215.1L231.4 214.1L232.1 211.6L233.1 211L234.1 211.1L243.1 213.7L247.1 214.4L252.2 215L257.2 215.1L260.2 214.8L268.2 212.5L277.2 210.8L280.2 210.7L284.2 211L287.2 210.9L313.2 208L317.2 207.8L322.2 207.9L323.2 207.6L324.1 207.1L324.9 206.1L325.1 205.1L324.6 199.1L324 198.1L323.2 197.5L322.2 197.2L312.2 196.2L297.2 195.6L294.2 195.6L286.2 196.2L281.2 196.1L261.2 194.7L252.2 194.5L249.1 194.2L246.1 193.4L243.1 193.3L239.1 193.7L223.1 194.1L212.1 195.5L195.1 195.6L190.1 196L187.1 196.5L183.1 197.7L170.1 202.3L164.1 203.7L156.5 206.1L152 207.2L147 207.8L142 208.2L128 208.1L119 208.3L119 206.9L139 207.2L143 207L147 206.5L149.2 206.1L152.2 205.1L154 203.9L156 203.2L166.1 202.2L169.1 201.5L170.6 201.1L172.7 200.1L173.5 199.1L170.7 198.1L167.1 197.1L163.1 196.7L156 197.1L150 198L147 198.2L127 198.1L123 198.3L119 198.8L119 197.9L126 197.5L145 197.3L148 197.1L155 196.2L162 195.9L165.1 196L168.1 196.4L174.1 198.1L176.1 198L177.2 197.1L177.2 196.1L177.2 195.1L176.2 194.1L175.1 193.8L173.1 193.7L165.1 188.9L157 185.9L151 184L148 183.6L145 183.8L142 184.5L136 186.3L132 186.9L119 187L119 185.4L127 185.2L132 185.4L134 185.2L135.1 185L143 182.6L148 181.8L152 182.5L161.2 186.1L164.5 187.1L166.1 187.1L166.4 186.1L168.3 183L168.7 182L169.1 178.5L169.2 178L170 177L172.1 176L177.1 174.6L178.1 174L178.6 173L180.4 169L180.4 168L180 167L178.4 165L177.8 164ZM334.2 202L329.2 202.5L327.8 203.1L327.3 204.1L327.1 207.1L327.6 208.1L329.2 208.8L333.2 209L337.2 209L339.2 208.8L340.6 208.1L341.1 207.1L341.2 204.1L340.9 203.1L340.3 202.6L338.2 202L334.2 202ZM403.3 207.1L381.3 208.3L362.3 210.3L355.3 211.6L335.2 216.7L329.2 218.7L319.2 222.6L318.2 223.2L316.2 223.8L314.3 225.1L313.9 226.1L314 227.1L314.7 228.1L316.2 228.4L318.2 228L334.2 226.5L342.3 225.5L358.3 223L380.3 221.2L402.3 220.7L420.3 221.5L427.4 220.8L431.4 220.7L432.4 220.5L433.4 219.9L434 219.1L434.2 218.1L434 213.1L433.9 212.1L433.4 210.8L432.8 210.1L431.4 209.3L419.3 207.2L403.3 207.1ZM433.4 192.7L432.6 193.1L432.6 194.1L433.4 194.3L436.4 194.4L438.4 194.1L438.2 193.1L437.4 192.8L433.4 192.7ZM449.4 200L447.4 200.6L446.8 201.1L446.4 202.1L446.1 205.1L446.5 206.1L448.4 207.2L451.4 207.8L456.4 208.1L473.4 208L476.4 207.8L479.4 207L480.6 206.1L481 205.1L481.3 202.1L481.2 201.1L480 200.1L479.4 199.9L477.4 199.6L474.4 199.3L462.4 199.3L457.4 199.4L449.4 200ZM526.5 200.7L525.6 201.1L525.1 202.1L525.1 203.1L525.2 204.1L525.5 204.6L525.9 205.1L526.5 205.3L528.5 205.6L530.5 205.6L537.5 205.5L540.4 205.1L541.5 204.1L541.7 203.1L541.7 202.1L541.2 201.1L540.5 200.7L537.5 200.2L531.5 200.1L528.5 200.2L526.5 200.7ZM334.2 183L331.2 183.2L330.2 183.5L329.2 184L329.3 185L330.1 187.1L330.4 189.1L331.1 190.1L332.2 190.6L334.2 190.9L345.3 191L348.3 190.5L349.2 190.1L349.8 189.1L349.1 185L348.4 184L346.3 183.2L344.3 183L334.2 183ZM394.3 175L385.3 177.6L377.3 181.1L370.3 183.9L368.3 184.4L363.1 185L360.3 185.7L357.3 186.9L354.3 188.4L351.8 189.1L350.7 190.1L351.3 195.1L351.8 196.1L352.3 196.4L353.3 196.5L359.3 196.4L363.3 196L367.3 195.1L370.3 194.3L374.3 192.6L378.3 190.3L383.3 186.7L393.3 182.5L395.8 181L396.6 180L397 179L397 176L396.6 175L396.3 174.8L395.3 174.7L394.3 175ZM408.3 168.8L405.6 170L404.3 171L404.3 172L406.9 174L405.8 177L406.1 179L406.7 180L408.3 180.3L410.3 180.2L419.3 179.4L423.3 178.4L424.3 177.9L425.5 177L426 176L425.9 175L425.3 173L424.7 172L423.3 171.3L422.3 171L418.3 170.6L416.3 170.2L413.3 169L411.3 168.5L409.3 168.5L408.3 168.8ZM438.4 173.7L437.7 174L437.6 175L438.4 175.6L439.4 175.8L442.4 175.6L443.2 175L443.1 174L442.4 173.7L441.4 173.6L438.4 173.7ZM468.4 169L463.4 169.9L457.4 171.5L453.5 172L452.4 172.8L452.2 173L451.7 175L450.7 177L450.8 178L451.4 178.5L453.4 179.4L455.4 179.2L460.4 178.5L463.4 177.8L469.4 175.9L471.5 175L472.6 174L472.9 173L472.9 171L472.5 170L471.4 169.2L470.9 169L468.4 169ZM491.4 172.9L468.4 178.4L458.4 181.5L457.3 182L456.7 183L456.8 185L457.4 186.1L458.4 186.3L460.4 186.2L465.4 186.5L469.4 186.3L473.4 185.5L476.4 184.5L485.4 180.6L490.7 178L493.4 176.9L494.5 176L494.8 175L494.9 173L494.4 172.6L493.4 172.4L491.4 172.9ZM515.5 179.7L513.3 181L512.2 182L511.7 183L511.6 185L511.9 187.1L513.4 188.1L517.5 188.8L522.5 189L539.5 188.7L544.5 188.3L545.5 188L547.3 187.1L547.6 186.1L547.6 185L547.1 183L546.5 181.9L545.5 180.9L543.5 180L539.5 179.5L529.5 179.6L520.5 179.1L517.5 179.2L515.5 179.7ZM274.2 211.9L268.2 213.4L265.2 214.5L262.4 216.1L260.3 218.1L259.7 219.1L259.5 220.1L259.5 221.1L260.2 221.8L261.2 222L263.2 221.9L268.2 220.9L273.2 219.8L276.2 218.8L281.2 216.6L283.2 215.1L283.5 214.1L283 213.1L281.4 212.1L280.2 211.7L278.2 211.5L274.2 211.9ZM310.2 209L302.8 210.1L295.2 211.6L291.2 212.8L286 215.1L284.8 216.1L284.4 217.1L284.3 219.1L284.6 220.1L285.5 221.1L287.2 221.8L288.2 221.7L291.2 221.1L294.2 220.3L313.1 215.1L318.9 213.1L319.9 212.1L320.3 211.1L320.4 210.1L319 209.1L315.2 208.7L310.2 209ZM387.3 186L384.7 187.1L383.1 188.1L381.2 190.1L381.1 191.1L381.3 191.3L382.3 191.6L383.3 191.6L387.3 191.1L389.3 190.3L392.9 188.1L393.4 187.1L392.7 186.1L391.3 185.4L390.3 185.3L387.3 186ZM411.3 181.9L407.3 182.7L404.3 183.6L401.3 184.8L393.8 189.1L392.3 189.7L390.5 191.1L389.9 192.1L389.9 193.1L390.2 194.1L391.3 194.8L398.5 194.1L405.3 193.1L409.8 192.1L412.3 191.2L416.7 189.1L418.3 188.4L419.3 187.9L420.4 187.1L421 186.1L421.2 185L421.3 183L421 182L420.3 181.5L419.3 181.3L417.3 181.6L411.3 181.9ZM272.2 222L268.2 222.8L267.6 223.1L266.8 224.1L266.9 225.1L267.2 225.5L268 226.1L269.3 226.1L273.2 225.5L274.2 225.1L275.7 224.1L275.9 223.1L275.8 222.1L275.2 221.8L274.2 221.7L272.2 222ZM315.2 215.1L293.3 221.1L285.2 224L284.1 225.1L283.9 226.1L284 227.1L284.2 228.1L285.2 228.6L286.2 228.6L293.2 227.4L301.2 225.6L316.2 220.6L318 219.1L318.2 218.1L318.1 216.1L317.7 215.1L317.2 214.9L316.2 214.8L315.2 215.1ZM224.5 164L236.8 164L236.6 167L236.1 168.1L235.1 169L233.1 169.5L230.1 169.7L228.1 169.4L227.1 169L225.7 168L224.6 167L224.2 166L224.5 164ZM254.6 164L264.2 164L264.5 166L264.4 167L263.5 170L263.2 170.4L257.2 171.1L256.2 171L255.2 170.7L254.2 169.7L253.5 168L253.5 167L253.8 166L254.6 164ZM270.5 164L281.5 164L280.4 168L279.3 169L276.2 169.7L273.2 170.1L272.6 171L272.5 173L272.2 174.7L271.3 176L270.2 176.5L269.2 176.6L266.2 176.4L265.2 175.9L264.6 175L263.7 172L263.6 171L264.2 170.5L268.2 170.7L272.1 170L271.8 169L270.7 167L270.4 166L270.5 164ZM361.2 165L362.2 164L374.9 164L374.5 166L373 168L371.7 169L366.6 172L362.2 175L359.7 176L357.3 176.4L356.3 176.3L355.8 176L355.7 175L357.1 170L357.6 169L359.3 166.8L361.2 165ZM219.9 173L221.1 172.7L223.1 172.8L224.1 173L225.1 173.5L225.6 174L225.8 175L225.6 176L225.1 176.5L224.1 177L221.1 177.3L219.9 177L219.1 176.3L218.9 176L218.8 175L219 174L219.9 173ZM242.9 177L243.1 176.7L244.1 176.5L245.1 177.1L244.8 178L244.1 178.3L243.1 178.2L242.9 177ZM241.1 202.1L242.1 201.8L244.1 201.7L246.1 201.8L246.9 202.1L247.4 203.1L247.1 204.3L246.1 204.9L245.4 205.1L242.1 205.1L241.1 204.6L240.6 204.1L240.5 203.1L241.1 202.1ZM158.5 229.1L167.1 228.7L172.1 228.7L183.1 229.5L194.1 229.9L203.1 230.4L212.1 231.5L221.1 231.9L241.1 233.8L250.1 234.1L259.2 235.9L267.2 236.8L277.2 238.3L281.2 238.7L296.2 238.8L306.2 239.3L310.2 239.3L314.2 238.9L324 237.2L330.2 236.8L334.8 237.2L337.2 238.5L339.2 239L347.3 238.4L351.3 238.4L358.3 240L360.3 240.1L363.3 239.9L364.3 239.9L364.8 240.2L365.2 241.2L364.4 242.2L360.3 244L359.9 244.2L359.3 245.2L360.3 245.7L360.8 246.2L362.3 246.5L363.7 247.2L365.3 247.5L366.8 248.2L368.3 248.5L369.9 249.2L376.3 250.3L378.2 251.2L379.3 252.2L380.3 252.8L381.3 252.9L390.3 252.1L400.3 252.2L405.3 251.4L407.3 251.2L417.3 251.8L442.4 251.3L456.4 251.7L470.4 251L476.4 250L480.4 248.8L481.8 248.2L485.4 247.3L490.4 246.7L496.8 246.2L508.4 245.8L510.7 245.2L516.5 244.2L520.5 243.9L525.5 241.2L528 240.2L532.5 236.9L534.5 236.2L559.5 236.2L559.5 237.7L555.5 237.4L549.5 237.3L536.5 237.5L534.5 237.7L533.1 238.2L531.7 239.2L530.5 240.5L528.5 242.2L527.9 243.2L528 244.2L529.1 245.2L532.5 245.8L536.5 246.1L550.5 246.4L556.5 246.3L559.5 245.9L559.5 247.3L532.5 246.7L526.2 246.2L522.5 245.5L520.5 245.4L518.5 245.7L516.4 246.2L510.4 246.9L508.4 247.6L507.4 248.2L506.1 250.2L504.9 251.2L500.4 252.1L491.4 252.6L483.4 252.7L481.9 253.2L483.1 254.2L487.4 255.2L494.1 256.2L503.4 257L516.5 256.2L521.1 255.2L522.1 254.2L524.5 253.9L534.5 253.4L543.5 253.8L551.5 253.8L559.5 253.2L559.5 255.5L535.5 255.5L531.5 255.9L523.5 257.3L517.5 257.7L503.4 257.9L496.4 257.5L485.6 256.2L473.4 253.4L467.4 252.8L462.4 252.5L440.4 252.3L420.3 253.7L415.3 253.8L407.3 253.6L398.3 254.1L391.3 254.2L379.3 255.4L378.3 255.3L377.3 254.7L376.9 254.2L376.3 252.2L375.3 251.3L374.3 251L371.3 250.7L356.3 246.7L347.3 244.7L333.2 242.5L319.2 240.9L297.2 239.7L280.2 239.4L265.2 237.7L257.2 237.3L250.1 236.7L239.1 236.4L212.2 233.2L202.1 231.6L183.1 230.7L170.1 229.7L161 229.8L140 231.1L133 231.8L119 232.2L119 231.3L132 230.9L158.5 229.1ZM487.4 248.2L485.8 249.2L485.7 250.2L487.1 251.2L490.4 251.4L497.7 251.2L498.4 251L499.8 250.2L500 249.2L498.9 248.2L497.4 248L493.4 247.9L487.4 248.2ZM152.4 241.2L160 240.8L171.1 240.7L189.4 241.2L194.1 241.5L199.1 242.1L201.5 243.2L200 244.2L191.1 245.5L174.1 246.4L160 246.6L140 248.3L138.6 249.2L138.5 251.2L139 252.3L141 252.8L153 253.8L174.1 254L188.1 253.9L194.1 253.6L206.1 251.8L207.1 251.2L207.8 250.2L208.3 248.2L209.1 247.2L210.1 247L243.1 251.8L254.2 252.7L258.2 252.8L278.2 252.5L292.2 253.1L322.2 253.6L334.2 254.5L340.3 255.7L343.3 255.9L356.3 256.5L366.3 256.3L372.3 256.5L373.3 256.7L374.1 257.2L374.4 258.2L374.3 261.2L375.3 262.2L376.3 262.5L378.3 262.7L386.3 264.7L390.3 265.4L399.3 266.7L403.3 267L422.3 267.5L434.4 267L446.4 267.2L454.4 266.9L462.4 266.9L500.4 269.7L505.4 269.9L509.4 269.5L522.5 267.9L536.8 265.2L544.9 264.2L550.5 263.9L559.5 263.8L559.5 273.2L552.5 275.4L547.5 276.1L542.5 276.1L538.1 275.3L536.3 274.2L533.5 270.8L531.5 269.7L529.5 269.3L527.5 269.2L522.5 269.8L515.5 270.1L508.4 270.8L504.4 271L500.4 270.8L490.4 269.8L476.4 269.6L465.4 268.7L460.4 268.6L456.4 268.8L453.4 269.2L449.4 271.1L446.2 272.2L444.9 273.2L442.8 274.2L437.5 275.3L433.4 275.3L427.4 274.6L425.3 274.6L418.3 275.2L407.3 274.6L404.4 274.2L399.3 272.6L397.3 272.6L395.3 273L391.7 274.2L389.3 274.7L386.3 275.1L380.3 275.5L373.6 277.3L369.3 277.8L366.3 277.8L362.7 277.3L362.1 276.3L360.6 275.3L358.3 275L355.3 275L353.7 275.3L350.9 277.3L345.3 278L327.2 278.5L325.2 278.9L316.2 281.4L312.2 282.3L305.2 282.7L298.2 283.4L295.2 283.4L291.2 283L285.2 283.8L278.2 284.1L271.2 284.2L265.2 283.7L258.2 283.5L256.5 283.3L253.4 282.3L252.2 281.6L251.2 281.3L246.1 280.8L241.1 279.6L239.1 279.5L235.1 280L233.1 279.8L230.9 279.3L229.7 278.3L217.1 278L210.5 277.3L204.1 277.2L200.1 277.3L194.1 278.5L191.1 278.4L187.2 277.3L184.1 276.8L182.1 276.1L180.2 275.3L179.3 274.2L179.2 273.2L179.7 272.2L180.7 271.2L182.3 270.2L182.1 269.8L181.5 269.2L180.1 268.7L174.1 267.4L173.6 267.2L172.7 266.2L177.3 265.2L184.1 264.8L188.1 264.9L190.1 265.2L191.1 265.7L191.8 266.2L193.6 268.2L195.5 269.2L200.1 269.7L210.1 269.9L220.1 271L230.1 270.7L247.1 270.9L256.2 269.8L261.2 269.8L263.7 270.2L264.9 271.2L264.6 272.2L264 273.2L263.9 274.2L264.5 275.3L266.2 275.7L269.2 275.8L277.2 275.2L281.2 274.6L285.2 273.6L286.2 273L286.9 272.2L287.1 271.2L286.7 270.2L285.8 269.2L283.2 268.4L277.2 267.2L273.2 266.2L272.3 265.2L273.1 264.2L277.2 263.5L280.2 263.1L291.2 262.9L298.9 263.2L301.2 263.8L308.5 264.2L309.7 265.2L310.2 266.2L311.2 267.2L313.2 268L315.2 268.3L320.2 268.5L327.2 269.4L336.2 269L346.3 269.5L350.3 268.8L357.3 267L363.3 266L366 265.2L366.4 264.2L366.4 262.2L367 261.2L371.3 259.2L371.3 258.2L367.8 258.2L365.3 259.2L363.3 260.3L361.3 261.1L358.3 261.8L355.3 262L352.3 261.8L346.3 260.9L341.3 260.6L340.3 260.4L339.2 259.7L338.1 257.2L336.2 256L333.2 255.4L326.2 254.6L321.2 254.3L292.2 253.9L278.2 253.4L273.2 253.6L262.2 254.6L260.2 255L258.2 256L256.2 258L255.2 258.4L254.2 258.4L245.1 257.5L229.1 257.3L223.1 256.3L221.1 256.5L216.1 257.6L213.1 257.9L195.1 257.7L192.1 257.5L186.1 256L181.1 255.4L165.1 255.1L154 255.2L145 254.9L142 255.4L140 256.1L137.8 257.2L137.1 258.2L137 261.2L137.2 262.2L138 263.3L140 264.7L141 265L143 265.3L151 264.7L154 264.8L157.7 265.2L161.9 266.2L165.1 268.2L170.1 268.3L172.1 268.5L173.1 269L173.9 270.2L174.1 271.2L173.7 272.2L172.1 273.1L170.1 273.5L167.1 273.8L162 274L160 274.3L151.2 277.3L147 278L144 278L142 277.5L139 276.3L136 275.9L129 277.1L122 279L119 279.3L119 261.7L122 261.7L124.2 261.2L125 260.2L125.1 258.2L124.9 257.2L124 256.5L122 256.1L119 256L119 251.9L130 252.9L134 252.9L135 252.6L135.3 252.2L135.7 251.2L136.1 248.2L136.9 247.2L136 246.3L135.5 246.2L128.6 245.2L125 245L119 245.3L119 243.5L126 243L135 242.8L152.4 241.2ZM154 242.1L146.4 243.2L141.8 244.2L140 245.2L141.2 246.2L144 246.4L149 246.4L160 245.6L171.1 245.6L177.1 245.4L181.1 245.2L191.2 244.2L192.7 243.2L191.1 242.9L184.7 242.2L173.1 241.6L162 241.6L154 242.1ZM210.1 255L209.9 255.2L210.2 256.2L212.1 256.5L215.1 256.4L215.8 256.2L216.1 255.2L215.1 254.6L212.1 254.5L211.1 254.6L210.1 255ZM213.1 249.2L212.1 249.3L210.9 250.2L210.7 251.2L211.1 252.1L212.1 252.5L220.1 253.8L222.1 253.9L224.1 253.7L229.1 252.7L232.2 252.2L230.1 251.8L228.6 251.2L223.1 250.2L215.4 249.2L213.1 249.2ZM188.1 271.2L187.1 271.5L185.5 272.2L185.2 273.2L185.3 274.2L186.2 275.3L187.1 275.5L190.1 275.9L194.1 276L204.1 275.9L208.1 275.5L209.2 275.3L210.1 274.5L210.4 274.2L210.7 273.2L210.6 272.2L208.1 271.3L205.1 271L193.1 270.9L188.1 271.2ZM219.1 273.1L218.7 273.2L218.4 274.2L218.6 275.3L219.5 276.3L220.1 276.4L223.1 276.7L230.1 276.8L232.1 276.7L234.1 276.3L234.9 275.3L235 274.2L234.6 273.2L233.1 272.8L230.1 272.6L223.1 272.5L221.1 272.6L219.1 273.1ZM251.2 272.1L250.1 272.5L249.5 273.2L249.5 275.3L250.1 276.4L251.1 276.8L253.2 277L257.2 277.1L259.2 276.9L260.3 276.3L260.5 275.3L260.4 273.2L259.3 272.2L258.2 272L256.2 271.9L251.2 272.1ZM270.2 278.1L269.7 278.3L268.6 279.3L268.8 281.3L269.3 282.3L271.2 282.9L274.2 283.2L281.2 283.1L285.2 282.7L286.9 282.3L287.9 281.3L288.7 279.3L287.9 278.3L287.2 278L284.2 277.6L279.2 277.5L273.2 277.6L270.2 278.1ZM304.2 274.2L303.9 274.2L303.5 275.3L304.2 275.6L306.2 275.8L308.2 275.6L309 275.3L308.2 274.2L306.2 274L304.2 274.2ZM328.2 271.2L326.2 271.5L324.9 272.2L324.6 274.2L324.9 275.3L325.2 275.5L327.2 276.1L329.2 276.3L336.2 276.4L340.1 276.3L342.3 275.8L343.4 275.3L343.8 274.2L343.7 273.2L343.3 272.2L342.3 271.7L340.7 271.2L338.2 271L328.2 271.2ZM136 265.9L133 267L131.3 268.2L130.9 269.2L131.2 270.2L132 270.5L133.3 270.2L136 269.8L138 269L139 268.2L139.2 267.2L138.7 266.2L138 265.8L137 265.7L136 265.9ZM240.8 342.4L252.2 342L262.2 342.1L275.2 341.5L283.2 341.5L286.2 341.8L288.2 342.4L289.6 343.4L290.5 344.4L291.6 346.4L292.1 348.4L291.9 349.4L291.3 350.4L290.1 351.4L288.2 352.1L286.2 352.4L279.2 352.3L269.2 352.9L263.8 353.4L257.2 354.5L255.2 354.7L245.1 354.1L234.1 354.6L213.1 354.6L203.1 354.7L193.1 354L184.1 354.2L173.1 353.4L164.1 353.2L162 352.9L160.4 352.4L160 351.4L160.6 350.4L162 349.7L163.1 349.3L166.1 349L172.1 348.9L181.5 346.4L186.1 345.5L199.1 344.1L204.1 343.7L214.1 343.7L222.1 342.8L227.1 342.5L240.8 342.4ZM504.5 348.4L509.4 348L522.5 348L539.5 348.5L548.5 349.3L553.5 348.6L559.5 348.8L559.5 354.4L554.5 354.5L547.5 353.7L540.6 354.4L532.5 354.8L515.5 355.1L505.4 354.7L503.6 354.4L501.4 353.8L500.6 353.4L499.9 352.4L500.1 350.4L501.1 349.4L504.5 348.4ZM119 350.4L119 350.2L123 350.1L137 350.4L141 350.7L144.6 351.4L146.1 352.4L146.6 353.4L146.5 354.4L146 354.7L143.5 355.4L139 355.8L119 355.8L119 350.4ZM520.4 373.5L521.5 373L522.5 372.9L524.5 372.8L526.5 373L527.5 373.5L528.3 374.5L528.4 375.5L527.9 376.5L526.5 377.1L525.5 377.2L521.5 376.9L520.5 376.5L520 375.5L520 374.5L520.4 373.5ZM539.4 373.5L550.5 372.9L559.5 373.1L559.5 378.5L554.5 378.8L547.5 379.1L543.5 379L537.8 378.5L533.8 377.5L532.9 376.5L532.8 375.5L533.6 374.5L536.5 373.8L539.4 373.5ZM119 374.5L119 374.1L125 373.9L133 374.2L140 374.2L143 374.5L145.6 375.5L145.9 376.5L145.6 377.5L145 377.8L143 378.6L138 379.1L127 379.1L119 378.8L119 374.5ZM210.5 374.5L216.1 374L228.1 374L247.1 374.4L249.1 374.9L250.8 375.5L250.7 376.5L249.1 377L247.1 377.4L228.1 378.1L212.1 377.6L210.1 377.3L207.9 376.5L207.9 375.5L210.5 374.5ZM280.4 376.5L283.2 376L289.2 376.1L291.4 376.5L291.6 377.5L290.2 377.9L288.2 378.1L283.2 378.1L280.2 377.5L280.4 376.5Z"/>
<path fill="#ffbe2d" stroke="#ffbe2d" stroke-width="0.5" fill-rule="evenodd" d="M491.1 173L493.4 172.4L494.4 172.6L494.9 173L494.9 174L494.5 176L493.3 177L490.7 178L483.4 181.5L476.4 184.5L474.4 185.3L471.4 186L466.4 186.4L461.4 186.3L458.4 186.3L457.4 186L456.8 185L456.7 183L457.3 182L458.4 181.5L468.4 178.4L479.4 175.6L491.1 173ZM491.4 174L490.4 174.6L482.5 176L466.5 180L460.5 182L458.6 183L458.7 184L459.4 184.8L460.4 185.1L464.4 185.6L468.4 185.5L472.2 185L475.3 184L484.4 180L488.3 178L489.4 177.2L492.4 176L492.6 175L492.6 174L491.4 174ZM437.7 174L438.4 173.7L439.4 173.6L442.4 173.7L443.1 174L443.2 175L442.4 175.6L441.4 175.7L439.4 175.8L438.4 175.6L437.6 175L437.7 174ZM394.1 175L395.3 174.7L396.3 174.8L396.6 175L397 176L397.1 177L397 179L396.6 180L395.8 181L394.3 182L383.3 186.7L379.3 189.6L376.3 191.5L373.3 193.1L370.9 194.1L367.3 195.1L362.3 196.2L358.3 196.5L354.3 196.4L352.3 196.4L351.8 196.1L351.3 195.1L350.7 190.1L351.8 189.1L354.3 188.4L357.3 186.9L360.3 185.7L363.1 185L368.3 184.4L370.3 183.9L377.3 181.1L385.3 177.6L394.1 175ZM391.3 177L384.6 179L377.3 182.3L371.3 184.6L362.3 186L360.3 186.7L357 188.1L354.3 189.7L353.1 190.1L352.2 191.1L352.3 193.1L352.5 194.1L353.3 195.1L356.3 195.4L360.3 195.5L363.8 195.1L367.7 194.1L370.4 193.1L374.8 191.1L378.3 189.1L381.3 186.9L383.3 185.6L391.6 182L394.3 180.6L394.9 180L395.3 179L395.3 176.9L394.3 176.3L391.3 177ZM514.9 180L516.5 179.4L519.5 179.1L529.5 179.6L539.5 179.5L543.5 180L545.7 181L546.6 182L547.4 184L547.6 186.1L547.3 187.1L545.4 188.1L543.5 188.4L539.5 188.7L523.5 189L518.5 188.9L514.4 188.3L513.4 188.1L511.9 187.1L511.6 186.1L511.6 184L511.7 183L512.2 182L513.3 181L514.9 180ZM521.5 181L518.5 181.4L516.8 182L516.5 182.4L516 183L515.5 185L515.6 186.1L516.1 187.1L518.5 187.8L521.5 188.1L536.5 188L539.5 187.7L542 187.1L542.7 186.1L542.9 184L542.7 183L541.5 181.9L539.5 181.3L537.5 181.1L530.5 181.5L521.5 181ZM410.8 182L419.3 181.3L420.3 181.5L421 182L421.3 183L421.2 185L421 186.1L420.4 187.1L419.1 188.1L411.3 191.6L405.4 193.1L399.3 193.9L391.3 194.8L390.2 194.1L389.9 193.1L389.9 192.1L390.5 191.1L392.3 189.7L393.8 189.1L401.3 184.8L405.3 183.3L408.3 182.5L410.8 182ZM412.3 182.9L407.3 183.9L403.8 185L399.4 187.1L392.1 191.1L391.7 192.1L391.9 193.1L392.3 193.5L399.3 193.1L406.2 192.1L409.9 191.1L412.3 190.1L415.3 188.5L418.6 187.1L419.4 186.1L419.7 185L419.7 184L419.6 183L419.3 182.8L418.3 182.6L412.3 182.9ZM333.4 183L344.3 183L346.3 183.2L348.4 184L349.1 185L349.8 189.1L349.2 190.1L348.3 190.5L346.3 190.9L334.2 190.9L332.2 190.6L331.2 190.2L330.4 189.1L330.1 187.1L329.3 185L329.2 184L330.2 183.5L331.2 183.2L333.4 183ZM339.2 184L334.2 184.4L332.6 185L332.6 186.1L333.3 189.1L335.2 189.6L340.3 189.8L344.3 189.8L346.3 189.3L346.6 189.1L346.9 188.1L346.7 186.1L346.3 184.9L344.3 184.1L339.2 184ZM144 184L146 183.7L148 183.6L151 184L154 184.8L162.9 188.1L167.1 190L173.1 193.7L175.1 193.8L176.2 194.1L177.2 195.1L177.2 197.1L176.1 198L174.1 198.1L167.1 196.3L164.1 195.9L161 195.9L155 196.2L148 197.1L145 197.3L126 197.5L119 197.9L119 197L141 196.6L146 196.2L153 195.3L161 194.9L168.1 195.2L173.1 195.9L174.1 196.3L174.5 196.1L174.7 195.1L173.1 195L172 194.1L171.1 193.7L170.3 193.1L164.2 190.1L155.7 187.1L152.4 186.1L150 185.6L148 185.4L145 185.5L142 186.1L136 187.6L132 188.1L119 188.4L119 187L133 186.8L136 186.3L144 184ZM553.8 191.1L554.5 190.7L555.5 190.4L559.5 190.3L559.5 191.5L556.5 191.6L555.3 192.1L555 193.1L555.3 195.1L556.5 195.6L559.5 195.7L559.5 196.8L555.5 196.7L554.5 196.5L553.5 195.8L553.1 195.1L553.1 193.1L553.1 192.1L553.8 191.1ZM432.6 193.1L433.4 192.7L434.4 192.7L437.4 192.8L438.2 193.1L438.5 194.1L436.4 194.4L433.4 194.3L432.6 194.1L432.6 193.1ZM223 194.1L239.1 193.7L242.1 193.3L244.1 193.3L246.1 193.4L249.1 194.2L252.2 194.5L261.2 194.7L281.2 196.1L286.2 196.2L294.2 195.6L297.2 195.6L312.2 196.2L322.2 197.2L323.2 197.5L324 198.1L324.6 199.1L324.8 200.1L325.1 204.1L324.9 206.1L324.1 207.1L323.2 207.6L322.2 207.9L317.2 207.8L313.2 208L286.2 211L284.2 211L280.2 210.7L277.2 210.8L268.2 212.5L260.2 214.8L257.2 215.1L252.2 215L247.1 214.4L243.1 213.7L234.1 211.1L233.1 211L232.1 211.6L231.4 214.1L230.6 215.1L229.1 215.6L225.1 215.8L222.1 215.5L221.1 215L220.4 214.1L220.2 213.1L220.3 210.1L220.6 209.1L221.1 208.5L222.1 207.8L223.1 207.5L225.1 207.4L226.4 207.1L225.1 206.8L218.1 206.7L205.1 207.8L195.1 208.4L189 209.1L174.1 211.9L165.1 214.7L161 215.7L153.9 217.1L143 218.9L138 219.2L126 218.7L119 218.7L119 217L126 217.1L137 218L140 218L143 217.8L153.5 216.1L158.6 215.1L165.1 213.5L174.1 210.5L189.1 207.9L195.1 207.2L207.1 206.4L215.1 205.4L224.1 205.2L226.1 205.3L227.1 205.6L228.4 206.1L229.9 207.1L229.8 208.1L229.1 208.5L227.1 209L223.6 209.1L223.1 209.2L222.1 210L221.8 212.1L221.8 213.1L222.1 213.9L223.1 214.5L225.1 214.6L228.1 214.5L229.4 214.1L230 213.1L230.2 211.1L230.5 210.1L231.1 209.1L232.1 208.5L233.1 208.6L238.1 210.2L242.1 211.1L252.2 212.5L256.2 212.7L259.2 212.5L265.2 211.5L278.2 209.9L287.2 209.7L322.2 206.5L322.9 206.1L323.5 205.1L323.4 200.1L323 199.1L322.2 198.5L321.2 198.3L311.2 197L300.2 196.7L296.2 196.7L285.2 197.3L263.2 196.8L256.2 197L252.2 197L249.1 196.7L248.1 196.4L246.1 194.6L245.1 194.3L243.1 194.2L242.1 194.4L240.7 195.1L240.1 195.6L239.1 195.8L228.1 195.2L224.1 195.1L213.1 196.6L196.1 196.8L190.1 197.2L186.1 198L173.1 202.5L163.1 205.1L155 207.7L151 208.7L144 209.2L129 209.3L119 209.6L119 208.3L128 208.1L142 208.2L147 207.8L152 207.2L156.5 206.1L164.1 203.7L170.1 202.3L183.1 197.7L187.1 196.5L190.1 196L195.1 195.6L212.1 195.5L223 194.1ZM448.9 200.1L457.4 199.4L461.4 199.3L474.4 199.3L477.4 199.6L479.4 199.9L480 200.1L481.2 201.1L481.3 202.1L481 205.1L480.6 206.1L479.4 207L477.4 207.6L473.4 208L457.4 208.1L452.4 207.9L448.4 207.2L446.5 206.1L446.1 205.1L446.4 202.1L446.8 201.1L447.4 200.6L448.9 200.1ZM458.4 200L452.4 200.8L451.3 201.1L450.4 201.7L450 202.1L449.5 204.1L449.5 205.1L450.3 206.1L452.4 206.8L455.4 207.2L470.4 207.2L474.4 206.9L477.4 206.1L478.2 205.1L478.4 203.9L478.5 202.1L477.9 201.1L475.4 200.3L473.4 200.1L458.4 200ZM239.7 201.1L241.1 200.6L243.1 200.4L246.1 200.4L248.1 200.8L249.1 201.6L249.5 202.1L249.6 203.1L249.5 204.1L249 205.1L248.1 205.7L246.1 206.2L242.1 206.2L240.1 205.9L239.1 205.4L238.7 205.1L238.4 204.1L238.3 203.1L238.5 202.1L239.7 201.1ZM241.1 202.1L240.5 203.1L240.6 204.1L241.1 204.6L242.1 205.1L243.1 205.1L245.1 205.1L246.1 204.9L247.3 204.1L247.4 203.1L246.9 202.1L246.1 201.8L244.1 201.7L242.1 201.8L241.1 202.1ZM525.6 201.1L527.5 200.4L529.5 200.1L536.5 200.2L539.5 200.4L541.2 201.1L541.7 202.1L541.5 204.1L540.5 205L538.5 205.4L536.5 205.5L529.5 205.6L526.5 205.3L525.9 205.1L525.2 204.1L525.1 202.1L525.6 201.1ZM528.5 202L528.6 203.1L529.5 204.1L532.8 204.1L536.5 203.7L537.6 203.1L537.9 202.1L536.5 201.7L530.5 201.4L529.5 201.6L528.5 202ZM333.5 202.1L337.2 201.9L339.2 202.2L340.3 202.6L340.9 203.1L341.2 204.1L341.1 207.1L340.6 208.1L340.3 208.3L338.2 209L334.2 209L329.2 208.8L327.6 208.1L327.1 207.1L327.3 204.1L327.8 203.1L329.2 202.5L330.2 202.3L333.5 202.1ZM330.2 204L329.7 206.1L329.9 207.1L330.2 207.3L332.2 207.7L336.2 207.8L338.2 207.4L338.7 207.1L339 205.1L338.9 204.1L338.2 203.5L337.2 203.2L336.2 203.1L332.2 203.5L330.2 204ZM403.2 207.1L419.3 207.2L431.4 209.3L432.8 210.1L433.4 210.8L433.9 212.1L434 213.1L434.2 218.1L434 219.1L433.4 219.9L432.4 220.5L431.4 220.7L427.4 220.8L420.3 221.5L402.3 220.7L380.3 221.2L358.3 223L343.3 225.4L334.2 226.5L318.2 228L316.2 228.4L314.7 228.1L314 227.1L313.9 226.1L314.3 225.1L316.2 223.8L318.2 223.2L321.2 221.8L332.2 217.6L339.2 215.6L351.3 212.6L361.3 210.4L381.3 208.3L403.2 207.1ZM381.3 209.1L363.1 211.1L358 212.1L341.3 216.1L334.2 218L328.2 220L320.2 223.1L316.2 225L316 225.1L315.6 226.1L316 227.1L316.2 227.3L321.7 227.1L331.9 226.1L355.3 222.4L361.3 221.6L368.3 221.1L378.3 220.1L387.3 219.7L398.3 218.6L402.3 218.7L419.3 220.1L422.3 220L427.4 219.2L429.8 219.1L430.4 219L431.4 218.5L431.7 218.1L432 217.1L431.8 213.1L431.6 212.1L430.8 211.1L429.4 210.6L421 209.1L418.3 208.8L410.3 208.8L398.3 208.5L381.3 209.1ZM315.1 215.1L316.2 214.8L317.2 214.9L317.7 215.1L318.1 216.1L318.2 218.1L318 219.1L316.2 220.6L301.2 225.6L293.2 227.4L287.2 228.4L285.2 228.6L284.2 228.1L283.9 226.1L284.1 225.1L285.2 224L293.3 221.1L315.1 215.1ZM314.2 216.1L295.7 221.1L292.4 222.1L287.2 224.1L285.5 225.1L285.3 226.1L285.5 227.1L286.2 227.5L288.2 227.3L294.9 226.1L299.2 225.1L314.8 220.1L316.4 219.1L316.8 218.1L316.7 217.1L316.2 216L315.2 215.9L314.2 216.1ZM537.4 216.1L552.5 215.5L559.5 215.6L559.5 217.1L554.5 217L538.5 217.3L526.7 219.1L516.5 221.4L511.4 221.9L503.4 221.9L481.4 221L468.4 220.9L453.4 221.2L447.4 221.6L444.4 222.1L441.4 222.9L433.4 225.7L430.4 226.5L422.3 227.9L417.3 228.4L389.3 229.4L377.6 230.1L372.5 231.2L371.9 232.2L372.1 234.2L375.7 235.2L382.7 236.2L387.3 236.5L394.3 236.8L404.3 236.7L411.3 237L415.3 236.8L424.3 235.8L432.4 235.2L442.4 233.9L446.4 233.6L457.4 234L468.4 234.9L472.4 235L510.4 234L517.8 233.2L522.2 232.2L527.5 230.4L533.5 228.7L537.5 228L540.5 227.8L559.5 226.7L559.5 228L542.5 228.6L538.5 228.9L535.5 229.5L528.5 231.8L522.9 233.2L515.5 234.4L510.4 234.9L484.4 235.5L469.4 236.2L451.4 235L446.4 234.9L442.9 235.2L432.4 236.5L417.3 237.7L412.3 237.9L394.3 237.8L383.3 237.4L371.3 236.2L370.3 235.7L369.7 235.2L369.6 234.2L369.7 231.2L370.3 230.2L371.3 229.7L376.3 228.9L379.3 228.6L416.3 227.2L421.3 226.7L429.8 225.1L433.5 224.1L440.4 221.7L443.4 220.8L447.4 220.1L454.4 219.7L481.4 219.7L502.4 220.4L511.4 220.5L515.5 220.1L526.5 217.4L537.4 216.1ZM271.5 222.1L273.2 221.8L275.2 221.8L275.8 222.1L275.9 223.1L275.7 224.1L274.2 225.1L270.2 226L268 226.1L266.9 225.1L266.8 224.1L267.6 223.1L268.2 222.8L271.5 222.1ZM271.2 223.1L269.1 224.1L269.2 224.5L270.2 224.8L272.7 224.1L272.9 223.1L271.2 223.1ZM154.7 230.1L162 229.7L169.1 229.7L183.1 230.7L200.1 231.4L204.1 231.8L213.1 233.3L239.1 236.4L250.1 236.7L257.2 237.3L265.2 237.7L280.2 239.4L298.2 239.7L317.2 240.7L325.2 241.5L334.2 242.7L347.3 244.7L356.3 246.7L371.3 250.7L375.1 251.2L376.3 252.2L376.9 254.2L377.3 254.7L378.3 255.3L379.3 255.4L391.3 254.2L398.3 254.1L407.3 253.6L415.3 253.8L419.3 253.8L437.4 252.4L444.4 252.2L454.4 252.5L462.4 252.5L468.4 252.8L475.4 253.8L481.4 255.3L485.6 256.2L494.4 257.3L502.4 257.9L520.5 257.6L524.1 257.2L532.5 255.7L535.5 255.5L559.5 255.5L559.5 256.9L535.5 257L533 257.2L524.5 258.7L520.5 259L502.4 258.8L496.4 258.4L485.4 257.2L482.4 256.7L474.4 254.8L467.4 253.9L461.4 253.4L445.4 253.1L435.4 253.7L420.3 255.5L414.3 255.7L407.3 255.3L404.3 255.3L397.3 255.8L388.3 255.9L385.1 256.2L380.3 257L377.3 257L376.7 257.2L376.2 260.2L377.3 261.1L388.1 263.2L394.6 264.2L402.3 265.1L405.3 265.3L414.3 265.3L422.3 265.6L430.4 265.5L446.4 265.8L462.4 265.8L502.4 268.9L506.4 268.8L510.4 268.4L518.5 266.9L523.8 266.2L537.5 263.6L542.5 262.9L548.5 262.6L559.5 262.5L559.5 263.8L550.5 263.9L544.9 264.2L536.8 265.2L522.5 267.9L508.4 269.7L504.4 269.9L499.4 269.7L462.4 266.9L454.4 266.9L446.4 267.2L434.4 267L422.3 267.5L401.3 266.9L390.3 265.4L386.3 264.7L378.3 262.7L376.3 262.5L375.3 262.2L374.3 261.2L374.4 258.2L374.1 257.2L373.3 256.7L372.3 256.5L366.3 256.3L356.3 256.5L343.3 255.9L340.3 255.7L334.2 254.5L323.2 253.6L292.2 253.1L278.2 252.5L258.2 252.8L254.2 252.7L243.1 251.8L210.1 247L209.1 247.2L208.3 248.2L207.8 250.2L207.1 251.2L206.1 251.8L205.1 252L202.1 252.3L193.1 253.7L186.1 254L157 253.9L152 253.7L141 252.8L140 252.7L138.9 252.2L138.5 251.2L138.6 249.2L140 248.3L140.7 248.2L160 246.6L174.1 246.4L191.1 245.5L200 244.2L201.5 243.2L201.1 243L199.1 242.1L192.1 241.3L173.1 240.7L162 240.7L156 240.9L135 242.8L126 243L119 243.5L119 242.2L126 241.6L134 241.4L142 240.8L158 240L178.1 239.9L190.1 240.1L198.1 240.7L201.1 241.5L202.9 242.2L204.7 243.2L205.4 244.2L205.1 244.4L204.1 244.8L199.1 245.6L191.1 246.5L173.1 247.4L161 247.4L153.4 248.2L150 248.7L143.9 249.2L142 249.7L141.5 250.2L141.7 251.2L146.9 252.2L152 252.6L157 252.9L173.1 252.9L190.1 252.7L196.1 252.2L204.1 250.9L205.1 250.5L205.6 250.2L206 249.2L206.4 246.2L207.1 245.3L208.1 245.2L210.1 245.4L217.4 247.2L224 248.2L244.1 250.6L249.1 251L257.2 251.4L279.2 251.6L291.2 252.2L323.2 252.8L334.2 253.5L340.5 254.2L344.3 254.4L360.3 255.1L374.6 255.2L374 253.2L373.3 252.4L372.8 252.2L371.3 252L365.2 250.2L356.8 248.2L352.3 247.2L341.3 245.3L332.2 243.6L318.2 242L299.2 240.6L280.2 240.1L267.2 238.9L239.1 237.6L223.1 235.8L212.1 234.3L202.1 232.7L183.1 231.8L167.1 230.5L162 230.5L156 230.9L140.8 232.2L134 233L119 233.3L119 232.2L133 231.8L140 231.1L154.7 230.1ZM533.1 238.2L534.5 237.7L537.5 237.5L551.5 237.3L559.5 237.7L559.5 245.9L555.5 246.3L548.5 246.4L535.5 246.1L532.5 245.8L529.1 245.2L528 244.2L527.9 243.2L528.5 242.2L530.5 240.5L531.7 239.2L533.1 238.2ZM536.5 239L535.5 239.2L534 240.2L533.5 241.2L533.1 243.2L533.6 244.2L536.5 244.8L540.5 245.2L549.5 245.5L554.7 245.2L557.3 244.2L557.9 243.2L558.5 241.2L558.4 240.2L556.8 239.2L553.5 238.9L549.5 238.8L536.5 239ZM487.3 248.2L492.4 247.9L496.4 247.9L498.9 248.2L500 249.2L499.8 250.2L498.4 251L497.4 251.2L492.4 251.4L489.4 251.4L487.1 251.2L485.7 250.2L485.8 249.2L487.3 248.2ZM209.9 255.2L211.1 254.6L213.1 254.5L215.1 254.6L216.1 255.2L215.8 256.2L214.1 256.5L211.1 256.5L210.2 256.2L209.9 255.2ZM119 256.2L119 256L120 256L123 256.3L124 256.5L124.9 257.2L125.1 258.2L125 260.2L124.2 261.2L122 261.7L119 261.7L119 260.4L122.2 260.2L122.7 259.2L122.7 258.2L122 257.6L121 257.3L119 257.2L119 256.2ZM188 271.2L193.1 270.9L205.1 271L208.1 271.3L210.6 272.2L210.7 273.2L210.4 274.2L209.1 275.3L206.1 275.7L201.1 275.9L191.1 275.9L187.1 275.5L186.2 275.3L185.3 274.2L185.2 273.2L185.5 272.2L188 271.2ZM191.1 272.2L190.8 272.2L189.9 273.2L190.1 274.2L191.1 274.5L195.1 274.8L201.1 274.7L204.1 274.5L205.3 274.2L205.8 273.2L204.8 272.2L195.1 272.1L191.1 272.2ZM327.5 271.2L330.2 271L337.2 271L340.3 271.2L342.3 271.7L343.3 272.2L343.7 273.2L343.8 274.2L343.4 275.3L342.3 275.8L340.3 276.2L330.2 276.3L326.2 275.9L324.9 275.3L324.6 274.2L324.9 272.2L326.2 271.5L327.5 271.2ZM330.2 272.2L329.2 272.4L328.2 273.2L328.3 274.2L329.2 274.8L330.8 275.3L338.2 275.3L339.2 275L340.3 274.2L340.2 273.2L338.9 272.2L336.2 272.1L330.2 272.2ZM250.7 272.2L252.2 271.9L255.2 271.9L258.2 272L259.3 272.2L260.4 273.2L260.5 275.3L260.2 276.4L259.2 276.9L257.2 277.1L252.2 276.9L250.1 276.4L249.5 275.3L249.5 273.2L250.7 272.2ZM252.2 273.2L251.8 274.2L251.9 275.3L252.2 275.4L253.2 275.7L256.2 275.9L257.2 275.8L258.2 275.4L258.3 274.2L257.9 273.2L256.2 273L252.2 273.2ZM218.7 273.2L220.1 272.8L223.1 272.5L230.1 272.6L233.1 272.8L234.6 273.2L235 274.2L234.9 275.3L234.3 276.3L232.1 276.7L230.1 276.8L223.1 276.7L220.1 276.4L219.5 276.3L218.6 275.3L218.4 274.2L218.7 273.2ZM222.1 274.2L222.1 274.5L222.6 275.3L223.1 275.4L226.1 275.5L230.1 275.3L230.4 275.3L230.7 274.2L229.1 273.9L224.1 273.6L222.1 274.2ZM269.7 278.3L271.2 277.9L274.2 277.6L282.2 277.5L286.2 277.8L287.9 278.3L288.7 279.3L287.9 281.3L287.2 282L286.2 282.5L283.2 283L275.2 283.2L271.2 282.9L269.3 282.3L268.8 281.3L268.6 279.3L269.7 278.3ZM271.2 279.3L271.1 280.3L271.3 281.3L272.7 282.3L275.2 282.5L281.2 282.3L282.4 282.3L284.2 281.8L285.2 281.2L285.7 280.3L285.9 279.3L284.2 278.6L281.2 278.3L275.2 278.3L273.2 278.5L271.2 279.3Z"/>
<path fill="#ff9e1e" stroke="#ff9e1e" stroke-width="0.5" fill-rule="evenodd" d="M491.4 174L492.6 174L492.6 175L492.4 176L489.4 177.2L488.3 178L484.4 180L475.3 184L472.2 185L469.4 185.4L465.4 185.6L461.4 185.2L459.4 184.8L458.7 184L458.6 183L460.5 182L466.5 180L482.5 176L490.4 174.6L491.4 174ZM391.1 177L394.3 176.3L395.3 176.9L395.3 179.1L394.9 180L393.7 181L383.3 185.6L376.6 190.1L370.4 193.1L367.7 194.1L363.8 195.1L360.3 195.5L357.3 195.5L353.1 195.1L352.5 194.1L352.2 192.1L352.3 191L353.1 190.1L354.3 189.7L357 188.1L360.3 186.7L362.3 186L370.3 184.9L372.3 184.3L377.3 182.3L384.6 179L391.1 177ZM364.3 187L363.3 187.1L360 188.1L358 189.1L356.8 190.1L356.2 191.1L356.3 192.1L356.9 193.1L358.3 193.8L360.3 194.1L362.3 194L365.3 193.1L366.9 192.1L368.8 188.1L368.1 187.1L364.3 187ZM520.5 181L523.5 181L530.5 181.5L537.5 181.1L539.5 181.3L541.5 181.9L542.7 183L542.9 184L542.7 186.1L542.5 186.4L542 187.1L541.5 187.2L537.5 187.9L521.5 188.1L518.5 187.8L516.5 187.2L516.1 187.1L515.6 186.1L515.6 184L516 183L516.8 182L517.5 181.7L520.5 181ZM411.6 183L418.3 182.6L419.3 182.8L419.6 183L419.7 184L419.7 185L419.4 186.1L418.6 187.1L415.3 188.5L412.3 190.1L409.9 191.1L406.2 192.1L399.6 193.1L392.3 193.5L391.9 193.1L391.7 192.1L392.1 191.1L399.4 187.1L403.8 185L407.3 183.9L411.6 183ZM407.3 185.9L406.7 186.1L404.5 187.1L404 188.1L404.3 188.3L405.3 188.4L406.3 188.1L408.3 187.2L410.3 186.1L409.3 185.7L407.3 185.9ZM338.9 184L343.7 184L345.3 184.4L346.4 185L346.7 186.1L346.9 188.1L346.6 189.1L345.3 189.7L344.3 189.8L341.3 189.8L335.2 189.6L334.2 189.4L333.2 188.9L332.6 186.1L332.6 185L334.2 184.4L338.9 184ZM142 186.1L145 185.5L148 185.4L152 186L155.7 187.1L164.2 190.1L166.4 191.1L170.3 193.1L171.1 193.7L172 194.1L173.1 195L174.7 195.1L174.5 196.1L174.1 196.3L173.1 195.9L169.1 195.3L161 194.9L153 195.3L146 196.2L141 196.6L134 196.8L122 196.9L119 197L119 195.6L136 195.6L142.2 195.1L146.1 194.1L147.3 193.1L146.3 192.1L143 190.6L140 190L136 190.1L128.4 191.1L123 192L119 192.3L119 188.4L133 188L136 187.6L142 186.1ZM555.3 192.1L556.5 191.6L559.5 191.5L559.5 195.1L559.5 195.7L556.5 195.6L555.5 195.2L555.3 195.1L555.1 194.1L555 193.1L555.3 192.1ZM240.7 195.1L242.1 194.4L245.1 194.3L246.1 194.6L246.8 195.1L248.1 196.4L249.1 196.7L253.2 197L263.2 196.8L285.2 197.3L296.2 196.7L300.2 196.7L311.2 197L321.2 198.3L322.2 198.5L323 199.1L323.4 200.1L323.5 205.1L322.9 206.1L322.2 206.5L287.2 209.7L278.2 209.9L265.2 211.5L259.2 212.5L256.2 212.7L252.2 212.5L242.1 211.1L238.1 210.2L233.1 208.6L232.1 208.5L231.1 209.1L230.5 210.1L230.2 211.1L230 213.1L229.4 214.1L228.1 214.5L225.1 214.6L223.1 214.5L222.1 213.9L221.8 213.1L221.8 212.1L222.1 210L223.1 209.2L223.6 209.1L227.1 209L229.1 208.5L229.8 208.1L229.9 207.1L228.1 206L226.1 205.3L225.1 205.2L217.1 205.2L212.1 205.7L207.1 206.4L194.1 207.3L188.1 208L174.1 210.5L165.1 213.5L158.6 215.1L147.3 217.1L140 218L135 217.9L126 217.1L119 217L119 209.6L129 209.3L144 209.2L151 208.7L155 207.7L163.1 205.1L173.1 202.5L186.1 198L190.1 197.2L196.1 196.8L213.1 196.6L224.1 195.1L228.1 195.2L239.1 195.8L240.1 195.6L240.7 195.1ZM294.2 198L288.2 198.4L275.2 198.6L271.2 198.9L269.2 199.2L265.9 200.1L262.2 202.3L260.2 203.1L259.2 202.9L258.2 202.3L257.2 202.2L254.2 202.2L253.2 202.4L252.4 203.1L252.2 204.1L252.2 206.1L253.2 207L254 207.1L256.2 208L258.2 208.3L264.2 208.6L275.2 208.8L280.2 208.7L287.2 208.4L299.2 207.2L308.2 206.8L314.9 206.1L321.2 205L321.7 204.1L321.7 203.1L321.6 201.1L321.2 200.1L316.8 199.1L310.3 198.1L301.2 197.8L294.2 198ZM134 211.1L133 211.3L131.4 212.1L131.7 214.1L132.2 215.1L133.6 216.1L136 216.6L139 216.8L143 216.2L143.6 216.1L145.5 215.1L145.9 214.1L145 212L143.3 211.1L141 210.9L138 210.8L134 211.1ZM166.1 206L161.9 207.1L159.1 208.1L156.7 209.1L155.3 210.1L155.3 211.1L157 213.1L158 213.3L160 213.3L161.6 213.1L164.9 212.1L166.8 211.1L168.1 210.1L170.2 207.1L170.5 206.1L169.1 205.8L166.1 206ZM203.1 198.1L194.1 198.2L189.1 198.7L187.3 199.1L184.5 200.1L180.2 202.1L178.6 203.1L177.9 204.1L178.7 206.1L179.1 206.5L180 207.1L181.1 207.2L184.1 207.2L187.1 206.8L198.1 205.6L206.3 205.1L210.4 204.1L212 203.1L212.6 202.1L213.1 200.5L213.4 200.1L212.3 199.1L207.1 198.1L203.1 198.1ZM221.1 197L217.3 198.1L215.4 199.1L215.4 200.1L218.5 202.1L221.1 203.1L226.1 203.6L229.1 204L230.1 203.8L231.1 203.1L231.3 199.1L230.6 198.1L228.5 197.1L226.1 196.7L224.1 196.7L221.1 197ZM240.1 200.9L239.1 201.5L238.5 202.1L238.3 203.1L238.4 204.1L238.7 205.1L239.1 205.4L240.1 205.9L242.1 206.2L245.1 206.2L247.1 206L248.1 205.7L249 205.1L249.5 204.1L249.5 202.1L248.6 201.1L247.1 200.5L245.1 200.4L242.1 200.5L240.1 200.9ZM457.8 200.1L473.4 200.1L475.4 200.3L477.9 201.1L478.5 202.1L478.4 203.9L478.2 205.1L477.4 206.1L474.4 206.9L471.4 207.1L455.4 207.2L452.4 206.8L450.3 206.1L449.5 205.1L449.5 204.1L450 202.1L450.4 201.7L451.4 201.1L457.8 200.1ZM462.4 201.1L458.4 201.4L455.5 202.1L454.8 203.1L454.4 203.9L454.3 205.1L455.4 205.5L457.4 205.9L466.4 205.7L471.4 205.7L473.8 205.1L474.4 204.1L474.6 203.1L474.4 202.1L473.4 201.6L471.4 201.1L462.4 201.1ZM528.4 202.1L529.5 201.6L530.5 201.4L536.5 201.7L537.9 202.1L537.5 203.2L536.5 203.7L535.5 203.8L532.8 204.1L529.5 204.1L528.6 203.1L528.4 202.1ZM330.1 204.1L331.2 203.7L336.2 203.1L337.2 203.2L338.2 203.5L338.9 204.1L339 206.1L338.7 207.1L337.2 207.7L336.2 207.8L332.2 207.7L330.2 207.3L329.9 207.1L329.7 206.1L330.1 204.1ZM381.1 209.1L398.3 208.5L410.3 208.8L418.3 208.8L421 209.1L429.4 210.6L430.8 211.1L431.6 212.1L431.8 213.1L432 217.1L431.7 218.1L431.4 218.5L430.4 219L429.8 219.1L427.4 219.2L422.3 220L419.3 220.1L402.3 218.7L398.3 218.6L387.3 219.7L378.3 220.1L362.3 221.5L356.3 222.3L331.9 226.1L321.7 227.1L316.2 227.3L316 227.1L315.6 226.1L316 225.1L320.2 223.1L328.2 220L334.2 218L341.3 216.1L358 212.1L363.1 211.1L381.1 209.1ZM384.3 210.1L381.3 210.3L364.4 212.1L350.2 215.1L341.6 217.1L331.1 220.1L328 221.1L323 223.1L321.4 224.1L321.3 225.1L322.2 225.6L324.2 225.9L328.2 225.7L333.2 225.1L340.3 223.7L358.3 220.7L366.3 220.1L377.3 218.7L386.3 218.3L389.3 217.7L391.1 217.1L392.3 216.1L393.4 214.1L394.3 213.4L396.9 212.1L395.9 211.1L389.3 210.2L384.3 210.1ZM413.3 212.1L412.2 213.1L410.9 216.1L412.5 217.1L418.8 218.1L421.3 218.1L424.4 217.1L424.2 216.1L419.8 214.1L418.9 212.1L416.3 211.6L413.3 212.1ZM314.2 216.1L315.2 215.9L316.2 216L316.7 217.1L316.8 218.1L316.4 219.1L314.8 220.1L299.2 225.1L294.9 226.1L289.2 227.2L286.2 227.5L285.5 227.1L285.3 226.1L285.5 225.1L287.2 224.1L292.4 222.1L295.7 221.1L314.2 216.1ZM550.7 217.1L559.5 217.1L559.5 226.7L537.5 228L534.5 228.5L530.5 229.5L522.2 232.2L517.8 233.2L513.4 233.8L509.4 234.1L472.4 235L468.4 234.9L457.4 234L446.4 233.6L442.4 233.9L432.4 235.2L424.3 235.8L416.3 236.7L412.3 237L404.3 236.7L392.3 236.8L382.3 236.1L375.7 235.2L372.3 234.3L372.1 234.2L371.9 232.2L372.5 231.2L377.6 230.1L380.3 229.9L389.3 229.4L417.3 228.4L423.3 227.8L430.4 226.5L433.4 225.7L441.4 222.9L444.4 222.1L447.4 221.6L453.4 221.2L468.4 220.9L481.4 221L503.4 221.9L511.4 221.9L516.5 221.4L526.7 219.1L537.5 217.4L540.5 217.2L550.7 217.1ZM554.5 220.1L555.5 221.1L556.5 220.9L557.5 220.3L557.7 220.1L556.5 219.9L554.5 220.1ZM393.3 232.7L392.6 233.2L393.1 234.2L395.3 234.2L395.9 233.2L395.3 232.7L394.3 232.5L393.3 232.7ZM411.3 230.1L406.5 231.2L406.2 232.2L406.6 234.2L408.3 235.2L409.3 235.3L412.3 235.5L415.3 235.3L416.6 235.2L419.3 234.2L420.4 233.2L420.5 232.2L420 231.2L417.6 230.2L414.3 230L411.3 230.1ZM449.4 223.1L447.4 223.3L443.1 224.1L439.8 225.1L437.5 226.1L436 227.1L434.9 228.1L433.2 231.2L433.4 232.2L437.4 232.6L447.4 232.2L459.4 232.6L469.4 233.4L473.4 233.5L507.4 232.9L511.4 232.6L515 232.2L519.3 231.2L521.8 230.1L523.4 229.1L524.2 228.1L524 227.1L523.6 226.1L523.5 225.1L523.9 224.1L523.8 223.1L522.5 222.8L519.5 222.9L512.4 223.7L508.4 223.8L504.4 223.7L495.4 223L479.4 222.4L470.4 222.2L466.4 222.2L449.4 223.1ZM538.5 219.1L534 220.1L532.1 221.1L531.4 222.1L532 225.1L532.7 226.1L535.5 226.5L545.5 226.3L547.3 226.1L551.8 225.1L553.1 224.1L552.5 223L551.5 222.5L548.5 221.5L545.6 220.1L544.5 219.8L541.5 219.2L538.5 219.1ZM271.1 223.1L272.9 223.1L272.7 224.1L271.2 224.5L270.2 224.8L269.2 224.5L269.1 224.1L271.1 223.1ZM152.6 231.2L161 230.6L166.1 230.5L183.1 231.8L200.1 232.5L204.1 232.9L212.1 234.3L223.1 235.8L239.1 237.6L267.2 238.9L279.2 240.1L296.2 240.5L307.8 241.2L322.2 242.4L333.2 243.8L341.3 245.3L352.4 247.2L365.2 250.2L371.3 252L372.8 252.2L373.3 252.4L374 253.2L374.6 255.2L374.3 255.3L359.3 255.1L343.3 254.4L334.2 253.5L324.2 252.9L291.2 252.2L279.2 251.6L271.2 251.5L256.2 251.3L244.1 250.6L219.1 247.5L210.1 245.4L208.1 245.2L207.1 245.3L206.4 246.2L206 249.2L205.6 250.2L205.1 250.5L204.1 250.9L195.1 252.3L189.1 252.7L172.1 252.9L156 252.8L146.9 252.2L141.7 251.2L141.5 250.2L142 249.7L143.9 249.2L150 248.7L153.4 248.2L161 247.4L173.1 247.4L191.1 246.5L199.1 245.6L204.1 244.8L205.1 244.4L205.4 244.2L204.7 243.2L202.9 242.2L199.1 240.9L194.1 240.3L189.1 240.1L159 240L142 240.8L134 241.4L126 241.6L119 242.2L119 233.3L134 233L140.8 232.2L152.6 231.2ZM155 232.1L148.3 233.2L145.5 234.2L144.6 235.2L144 236.3L143.4 237.2L143.2 238.2L146 238.7L151 239L166.1 239L177.1 238.7L182.5 238.2L186.1 236.6L187.1 236.3L189.1 236.1L191.1 236.5L194.9 238.2L201.1 239.7L208.7 243.2L211.6 244.2L218.8 246.2L224.1 247.2L227.1 247.6L245.1 249.5L253.2 250L271.2 250.5L280.2 250.5L292.2 251.2L323.2 251.7L331.2 251.6L335.2 251.4L336.4 251.2L337.5 250.2L337.5 248.2L336.8 247.2L335.4 246.2L332.5 245.2L326.9 244.2L308.3 242.2L300.2 241.6L289.2 241.2L279.2 241.1L267.2 240L239.1 238.9L211.1 235.7L202.4 234.2L186.1 234L172.4 232.2L167.1 231.6L162 231.6L155 232.1ZM535.5 239.2L537.5 239L547.5 238.8L553.5 238.9L556.8 239.2L558.4 240.2L558.5 241.2L557.9 243.2L557.3 244.2L555.5 244.9L554.7 245.2L552.5 245.4L547.5 245.5L540.5 245.2L536.5 244.8L534.5 244.5L533.5 244L533.1 243.2L533.2 242.2L534 240.2L535.5 239.2ZM442 253.2L460.4 253.4L466.4 253.8L474.4 254.8L482.4 256.7L485.4 257.2L496.4 258.4L501.4 258.7L520.5 259L524.5 258.7L533 257.2L535.5 257L559.5 256.9L559.5 262.5L546.5 262.6L538.5 263.4L523.8 266.2L518.5 266.9L507.4 268.7L502.4 268.9L496.4 268.5L462.4 265.8L446.4 265.8L430.4 265.5L422.3 265.6L413.3 265.3L404.3 265.2L394.6 264.2L388.1 263.2L377.3 261.1L376.2 260.2L376.7 257.2L377.3 257L380.3 257L385.1 256.2L388.3 255.9L397.3 255.8L404.3 255.3L407.3 255.3L414.3 255.7L420.3 255.5L433.4 253.9L442 253.2ZM434.4 255.2L429.7 256.2L427.2 257.2L426.2 258.2L426 259.2L426.4 260.2L426.9 261.2L428 262.2L430.6 263.2L432.4 263.6L438.9 264.2L465.4 264.9L499.4 267.7L504.4 267.8L508.4 267.4L512.6 266.2L514.7 265.2L516 264.2L516.8 263.2L517.1 262.2L516.2 261.2L512.5 260.2L507.4 259.8L498.4 259.6L488.4 258.5L481.4 257.6L475.6 256.2L470.4 255.3L461.4 254.5L446.4 254.2L439.4 254.7L434.4 255.2ZM119 258.2L119 257.2L121 257.3L122 257.6L122.7 258.2L122.7 259.2L122.2 260.2L119 260.4L119 258.2ZM190.8 272.2L195.1 272.1L204.8 272.2L205.8 273.2L205.1 274.3L201.1 274.7L192.1 274.6L190.1 274.2L189.9 273.2L190.8 272.2ZM329.5 272.2L335.2 272.1L338.9 272.2L340.2 273.2L340.3 274.2L338.7 275.3L330.8 275.3L329.2 274.8L328.3 274.2L328.2 273.2L329.5 272.2ZM252 273.2L255.2 273L257.9 273.2L258.3 274.2L258.3 275.3L257.2 275.8L256.2 275.9L253.2 275.7L252.2 275.4L251.9 275.3L251.8 274.2L252 273.2ZM222 274.2L223.1 273.8L224.1 273.6L229.1 273.9L230.7 274.2L230.4 275.3L226.1 275.5L223.1 275.4L222.6 275.3L222 274.2ZM271.2 279.3L273.2 278.5L275.2 278.3L283.2 278.4L285.2 278.9L285.9 279.3L285.7 280.3L285.1 281.3L284.2 281.8L282.4 282.3L276.2 282.5L273.2 282.3L272.2 282L271.3 281.3L271.1 280.3L271.2 279.3Z"/>
<path fill="#ff661a" stroke="#ff661a" stroke-width="0.5" fill-rule="evenodd" d="M406.7 186.1L409.3 185.7L410.3 186.1L408.3 187.2L406.4 188.1L405.3 188.4L404.3 188.3L404 188.1L404.5 187.1L406.7 186.1ZM363.5 187.1L366.3 186.9L368.1 187.1L368.8 188.1L366.9 192.1L365.5 193.1L362.3 194L361.3 194.1L359.2 194.1L357.3 193.3L356.9 193.1L356.3 192.1L356.2 191.1L356.8 190.1L358 189.1L360 188.1L363.5 187.1ZM136.2 190.1L140 190L142 190.3L144 191L146 191.9L147.3 193.1L146.1 194.1L142.2 195.1L135 195.7L130 195.7L119 195.6L119 192.3L123 192L128.4 191.1L136.2 190.1ZM220.5 197.1L223.1 196.7L226.1 196.7L228.5 197.1L230.6 198.1L231.3 199.1L231.1 203.1L230.1 203.8L229.1 204L227.1 203.8L221.1 203.1L218.5 202.1L215.4 200.1L215.4 199.1L217.3 198.1L220.5 197.1ZM202.2 198.1L207.1 198.1L212.3 199.1L213.4 200.1L213.1 200.5L212.6 202.1L212 203.1L210.4 204.1L206.3 205.1L198.1 205.6L188.1 206.7L183.1 207.3L180 207.1L178.7 206.1L177.9 204.1L178.6 203.1L180.2 202.1L184.5 200.1L187.3 199.1L189.1 198.7L194.1 198.2L202.2 198.1ZM293.3 198.1L300.2 197.8L310.2 198.1L316.8 199.1L321.2 200.1L321.6 201.1L321.7 203.1L321.7 204.1L321.2 205L314.9 206.1L309.2 206.7L299.2 207.2L287.2 208.4L281.2 208.6L276.2 208.8L264.2 208.6L258.2 208.3L256.2 208L254 207.1L253.2 207L252.2 206.1L252.2 204.1L252.4 203.1L253.2 202.4L254.2 202.2L257.2 202.2L258.2 202.3L259.2 202.9L260.2 203.1L262.2 202.3L265.9 200.1L269.2 199.2L271.2 198.9L275.2 198.6L288.2 198.4L293.3 198.1ZM462.1 201.1L471.4 201.1L473.4 201.6L474.4 202.1L474.6 203.1L474.4 204.1L473.8 205.1L471.4 205.7L467.4 205.7L457.4 205.9L455.4 205.5L454.3 205.1L454.4 203.9L454.8 203.1L455.5 202.1L458.4 201.4L462.1 201.1ZM165.1 206.1L168.1 205.8L170.1 205.9L170.5 206.1L170.2 207.1L168.1 210.1L166.8 211.1L164.9 212.1L161 213.2L159 213.4L157 213.1L155.3 211.1L155.3 210.1L156.7 209.1L159.1 208.1L165.1 206.1ZM383.5 210.1L388.3 210.1L394.3 210.9L395.9 211.1L396.9 212.1L394.3 213.4L393.4 214.1L392.3 216.1L391.1 217.1L389.3 217.7L386.3 218.3L377.3 218.7L366.3 220.1L358.3 220.7L334.2 224.9L332.2 225.2L325.2 225.9L323.2 225.8L322.2 225.6L321.3 225.1L321.4 224.1L323 223.1L328 221.1L331.1 220.1L341.6 217.1L350.2 215.1L364.4 212.1L383.5 210.1ZM133.5 211.1L137 210.8L140 210.8L143.3 211.1L144 211.4L145.2 212.1L145.9 214.1L145.5 215.1L143.6 216.1L141 216.6L139 216.8L136 216.6L133.6 216.1L132.2 215.1L131.7 214.1L131.4 212.1L133.5 211.1ZM413.2 212.1L416.3 211.6L418.9 212.1L419.8 214.1L424.2 216.1L424.4 217.1L422.3 217.8L421 218.1L418.3 218.1L412.5 217.1L411.3 216.4L410.9 216.1L411.3 215.1L411.9 214.1L412.2 213.1L413.2 212.1ZM538.4 219.1L541.5 219.2L544.5 219.8L545.6 220.1L548.5 221.5L551.5 222.5L552.5 223L553.1 224.1L551.8 225.1L546.5 226.2L535.5 226.5L532.7 226.1L532 225.1L531.4 222.1L532.1 221.1L534 220.1L538.4 219.1ZM554.5 220.1L556.5 219.9L557.7 220.1L556.5 220.9L555.5 221.1L554.5 220.1ZM448.4 223.1L469.4 222.2L479.4 222.4L495.4 223L504.4 223.7L508.4 223.8L512.4 223.7L519.5 222.9L522.5 222.8L523.8 223.1L523.9 224.1L523.5 225.1L523.6 226.1L524 227.1L524.2 228.1L523.4 229.1L521.8 230.1L519.3 231.2L515 232.2L508.4 232.8L492.4 233.3L483.4 233.3L473.4 233.5L468.4 233.3L460.4 232.6L448.4 232.2L438.4 232.6L434.4 232.3L433.2 232.2L433.2 231.2L434.9 228.1L436 227.1L437.5 226.1L439.8 225.1L443.1 224.1L448.4 223.1ZM410.5 230.1L414.3 230L417.6 230.1L420 231.2L420.5 232.2L420.4 233.2L419.3 234.2L416.3 235.2L413.3 235.5L410.3 235.4L408.3 235.2L406.6 234.2L406.2 232.2L406.5 231.2L410.5 230.1ZM154.6 232.2L162 231.6L167.1 231.6L172.4 232.2L186.1 234L202.4 234.2L211.1 235.7L239.1 238.9L267.2 240L279.2 241.1L288.6 241.2L298.2 241.5L308.3 242.2L318.3 243.2L326.9 244.2L332.5 245.2L335.4 246.2L336.8 247.2L337.5 248.2L337.5 250.2L336.4 251.2L332.2 251.6L324.2 251.7L292.2 251.2L280.2 250.5L254.2 250.1L246.1 249.6L227.1 247.6L224.1 247.2L218.8 246.2L211.6 244.2L208.7 243.2L201.1 239.7L194.9 238.2L191.1 236.5L189.1 236.1L187.1 236.3L186.1 236.6L182.5 238.2L177.1 238.7L166.1 239L151 239L146 238.7L143.2 238.2L143.4 237.2L144 236.3L144.6 235.2L145.5 234.2L148.3 233.2L154.6 232.2ZM392.6 233.2L393.3 232.7L394.3 232.5L395.3 232.7L395.9 233.2L395.4 234.2L393.1 234.2L392.6 233.2ZM434.3 255.2L439.4 254.7L446.4 254.2L461.4 254.5L470.4 255.3L475.6 256.2L481.4 257.6L488.4 258.5L498.4 259.6L507.4 259.8L512.5 260.2L516.2 261.2L517.1 262.2L516.8 263.2L516 264.2L514.7 265.2L512.6 266.2L509.2 267.2L505.4 267.7L499.4 267.7L465.4 264.9L438.9 264.2L433.4 263.7L430.6 263.2L428 262.2L426.9 261.2L426 259.2L426.2 258.2L427.2 257.2L429.7 256.2L434.3 255.2Z"/>
</g>
<g stroke="#000" stroke-opacity="0.55" stroke-width="1" fill="none">
<rect x="119.0" y="164.0" width="440.5" height="220.5"/>
</g>
<g stroke="#141400" stroke-opacity="0.85" stroke-width="1" fill="none" shape-rendering="crispEdges">
<path d="M135.5 384.5v-3.3M135.5 164.0v3.3M152.5 384.5v-6.6M152.5 164.0v6.6M169.5 384.5v-3.3M169.5 164.0v3.3M187.5 384.5v-6.6M187.5 164.0v6.6M204.5 384.5v-3.3M204.5 164.0v3.3M221.5 384.5v-6.6M221.5 164.0v6.6M238.5 384.5v-3.3M238.5 164.0v3.3M256.5 384.5v-6.6M256.5 164.0v6.6M273.5 384.5v-3.3M273.5 164.0v3.3M290.5 384.5v-6.6M290.5 164.0v6.6M307.5 384.5v-3.3M307.5 164.0v3.3M325.5 384.5v-6.6M325.5 164.0v6.6M342.5 384.5v-3.3M342.5 164.0v3.3M359.5 384.5v-6.6M359.5 164.0v6.6M376.5 384.5v-3.3M376.5 164.0v3.3M394.5 384.5v-6.6M394.5 164.0v6.6M411.5 384.5v-3.3M411.5 164.0v3.3M428.5 384.5v-6.6M428.5 164.0v6.6M445.5 384.5v-3.3M445.5 164.0v3.3M463.5 384.5v-6.6M463.5 164.0v6.6M480.5 384.5v-3.3M480.5 164.0v3.3M497.5 384.5v-6.6M497.5 164.0v6.6M514.5 384.5v-3.3M514.5 164.0v3.3M532.5 384.5v-6.6M532.5 164.0v6.6M549.5 384.5v-3.3M549.5 164.0v3.3M119.0 370.5h3.3M559.5 370.5h-3.3M119.0 355.5h6.6M559.5 355.5h-6.6M119.0 340.5h3.3M559.5 340.5h-3.3M119.0 325.5h6.6M559.5 325.5h-6.6M119.0 310.5h3.3M559.5 310.5h-3.3M119.0 295.5h6.6M559.5 295.5h-6.6M119.0 281.5h3.3M559.5 281.5h-3.3M119.0 266.5h6.6M559.5 266.5h-6.6M119.0 251.5h3.3M559.5 251.5h-3.3M119.0 236.5h6.6M559.5 236.5h-6.6M119.0 221.5h3.3M559.5 221.5h-3.3M119.0 207.5h6.6M559.5 207.5h-6.6M119.0 192.5h3.3M559.5 192.5h-3.3M119.0 177.5h6.6M559.5 177.5h-6.6"/>
</g>
<g>
<rect x="570.5" y="362.26" width="14.5" height="22.04" fill="#ff14aa"/>
<rect x="570.5" y="347.57" width="14.5" height="14.69" fill="#7814aa"/>
<rect x="570.5" y="332.88" width="14.5" height="14.69" fill="#0a0aaa"/>
<rect x="570.5" y="318.19" width="14.5" height="14.69" fill="#1464ff"/>
<rect x="570.5" y="310.84" width="14.5" height="7.35" fill="#14b4ff"/>
<rect x="570.5" y="303.50" width="14.5" height="7.35" fill="#00ffb4"/>
<rect x="570.5" y="296.15" width="14.5" height="7.35" fill="#aaff00"/>
<rect x="570.5" y="288.80" width="14.5" height="7.35" fill="#ffff00"/>
<rect x="570.5" y="281.46" width="14.5" height="7.35" fill="#ffb914"/>
<rect x="570.5" y="274.11" width="14.5" height="7.35" fill="#ff9600"/>
<rect x="570.5" y="259.42" width="14.5" height="14.69" fill="#ff5a00"/>
<rect x="570.5" y="244.73" width="14.5" height="14.69" fill="#ff0a14"/>
<rect x="570.5" y="230.04" width="14.5" height="14.69" fill="#ff555a"/>
<rect x="570.5" y="208.00" width="14.5" height="22.04" fill="#ffaab2"/>
<path d="M570.5 208.0L577.75 200.6L585.0 208.0Z" fill="#ffe6e6" stroke="#111" stroke-width="1.1" stroke-linejoin="miter"/>
<path d="M570.5 208.0V384.3H585.0V208.0M570.5 362.26H585.0M570.5 347.57H585.8M570.5 332.88H585.0M570.5 318.19H585.8M570.5 310.84H585.0M570.5 303.50H585.8M570.5 296.15H585.0M570.5 288.80H585.8M570.5 281.46H585.0M570.5 274.11H585.8M570.5 259.42H585.0M570.5 244.73H585.8M570.5 230.04H585.0M570.5 208.00H585.8" fill="none" stroke="#000" stroke-opacity="0.9" stroke-width="1"/>
</g>
<g>
<text class="t1" transform="translate(0 133.2) scale(1.04 1)" font-size="20.5" fill="#161616"><tspan x="221.6" textLength="81.2" lengthAdjust="spacing">Potential</tspan> <tspan x="314.9" textLength="116.8" lengthAdjust="spacing">temperature</tspan></text>
<text transform="translate(57.5 148.3) scale(1.15 1)" font-size="11.5" text-anchor="start" fill="#161616" textLength="58.26" lengthAdjust="spacing">(×1000 m)</text>
<text transform="translate(567 171.8) scale(1.12 1)" font-size="11.5" fill="#666"><tspan x="0" textLength="31.5" lengthAdjust="spacing">82800</tspan> <tspan x="37.2">s</tspan></text>
<text transform="translate(510 414.8) scale(1.15 1)" font-size="11.5" text-anchor="start" fill="#161616" textLength="50.87" lengthAdjust="spacing">(×1E4 m)</text>
<text transform="translate(286.5 435.5) scale(1.18 1)" font-size="14.5" fill="#161616">x<tspan textLength="13.2" lengthAdjust="spacingAndGlyphs" stroke="#222" stroke-width="0.35">-</tspan><tspan textLength="69.3" lengthAdjust="spacing">coordinate</tspan></text>
<text transform="translate(88.9 325.6) rotate(-90) scale(1.18 1)" font-size="14.5" fill="#161616">z<tspan textLength="13.2" lengthAdjust="spacingAndGlyphs" stroke="#222" stroke-width="0.35">-</tspan><tspan textLength="67.8" lengthAdjust="spacing">coordinate</tspan></text>
<text transform="translate(112.8 359.2) scale(1.1 1)" font-size="12.3" text-anchor="end" fill="#161616">4</text>
<text transform="translate(112.8 329.5) scale(1.1 1)" font-size="12.3" text-anchor="end" fill="#161616">8</text>
<text transform="translate(112.8 299.9) scale(1.1 1)" font-size="12.3" text-anchor="end" fill="#161616" textLength="13.45" lengthAdjust="spacing">12</text>
<text transform="translate(112.8 270.2) scale(1.1 1)" font-size="12.3" text-anchor="end" fill="#161616" textLength="13.45" lengthAdjust="spacing">16</text>
<text transform="translate(112.8 240.6) scale(1.1 1)" font-size="12.3" text-anchor="end" fill="#161616" textLength="13.45" lengthAdjust="spacing">20</text>
<text transform="translate(112.8 211.0) scale(1.1 1)" font-size="12.3" text-anchor="end" fill="#161616" textLength="13.45" lengthAdjust="spacing">24</text>
<text transform="translate(112.8 181.3) scale(1.1 1)" font-size="12.3" text-anchor="end" fill="#161616" textLength="13.45" lengthAdjust="spacing">28</text>
<text transform="translate(153.5 399) scale(1.1 1)" font-size="12.3" text-anchor="middle" fill="#161616">1</text>
<text transform="translate(188.0 399) scale(1.1 1)" font-size="12.3" text-anchor="middle" fill="#161616">2</text>
<text transform="translate(222.5 399) scale(1.1 1)" font-size="12.3" text-anchor="middle" fill="#161616">3</text>
<text transform="translate(257.0 399) scale(1.1 1)" font-size="12.3" text-anchor="middle" fill="#161616">4</text>
<text transform="translate(291.5 399) scale(1.1 1)" font-size="12.3" text-anchor="middle" fill="#161616">5</text>
<text transform="translate(326.0 399) scale(1.1 1)" font-size="12.3" text-anchor="middle" fill="#161616">6</text>
<text transform="translate(360.5 399) scale(1.1 1)" font-size="12.3" text-anchor="middle" fill="#161616">7</text>
<text transform="translate(395.0 399) scale(1.1 1)" font-size="12.3" text-anchor="middle" fill="#161616">8</text>
<text transform="translate(429.5 399) scale(1.1 1)" font-size="12.3" text-anchor="middle" fill="#161616">9</text>
<text transform="translate(464.0 399) scale(1.1 1)" font-size="12.3" text-anchor="middle" fill="#161616" textLength="12.73" lengthAdjust="spacing">10</text>
<text transform="translate(498.5 399) scale(1.1 1)" font-size="12.3" text-anchor="middle" fill="#161616" textLength="12.73" lengthAdjust="spacing">11</text>
<text transform="translate(533.0 399) scale(1.1 1)" font-size="12.3" text-anchor="middle" fill="#161616" textLength="12.73" lengthAdjust="spacing">12</text>
<text transform="translate(592.0 211.4) scale(1.1 1)" font-size="11.5" text-anchor="start" fill="#161616" textLength="11.36" lengthAdjust="spacing">12</text>
<text transform="translate(592.0 248.1) scale(1.1 1)" font-size="11.5" text-anchor="start" fill="#161616">7</text>
<text transform="translate(592.0 277.5) scale(1.1 1)" font-size="11.5" text-anchor="start" fill="#161616">3</text>
<text transform="translate(592.0 292.2) scale(1.1 1)" font-size="11.5" text-anchor="start" fill="#161616">1</text>
<text transform="translate(592.4 306.9) scale(1.1 1)" font-size="11.5" fill="#161616"><tspan textLength="7.2" lengthAdjust="spacingAndGlyphs" stroke="#222" stroke-width="0.35">-</tspan><tspan dx="0.2">1</tspan></text>
<text transform="translate(592.4 321.6) scale(1.1 1)" font-size="11.5" fill="#161616"><tspan textLength="7.2" lengthAdjust="spacingAndGlyphs" stroke="#222" stroke-width="0.35">-</tspan><tspan dx="0.2">3</tspan></text>
<text transform="translate(592.4 351.0) scale(1.1 1)" font-size="11.5" fill="#161616"><tspan textLength="7.2" lengthAdjust="spacingAndGlyphs" stroke="#222" stroke-width="0.35">-</tspan><tspan dx="0.2">7</tspan></text>
<text transform="translate(592.4 387.7) scale(1.1 1)" font-size="11.5" fill="#161616"><tspan textLength="7.2" lengthAdjust="spacingAndGlyphs" stroke="#222" stroke-width="0.35">-</tspan><tspan dx="0.2" textLength="11.36" lengthAdjust="spacing">12</tspan></text>
</g>
</svg></body></html>
